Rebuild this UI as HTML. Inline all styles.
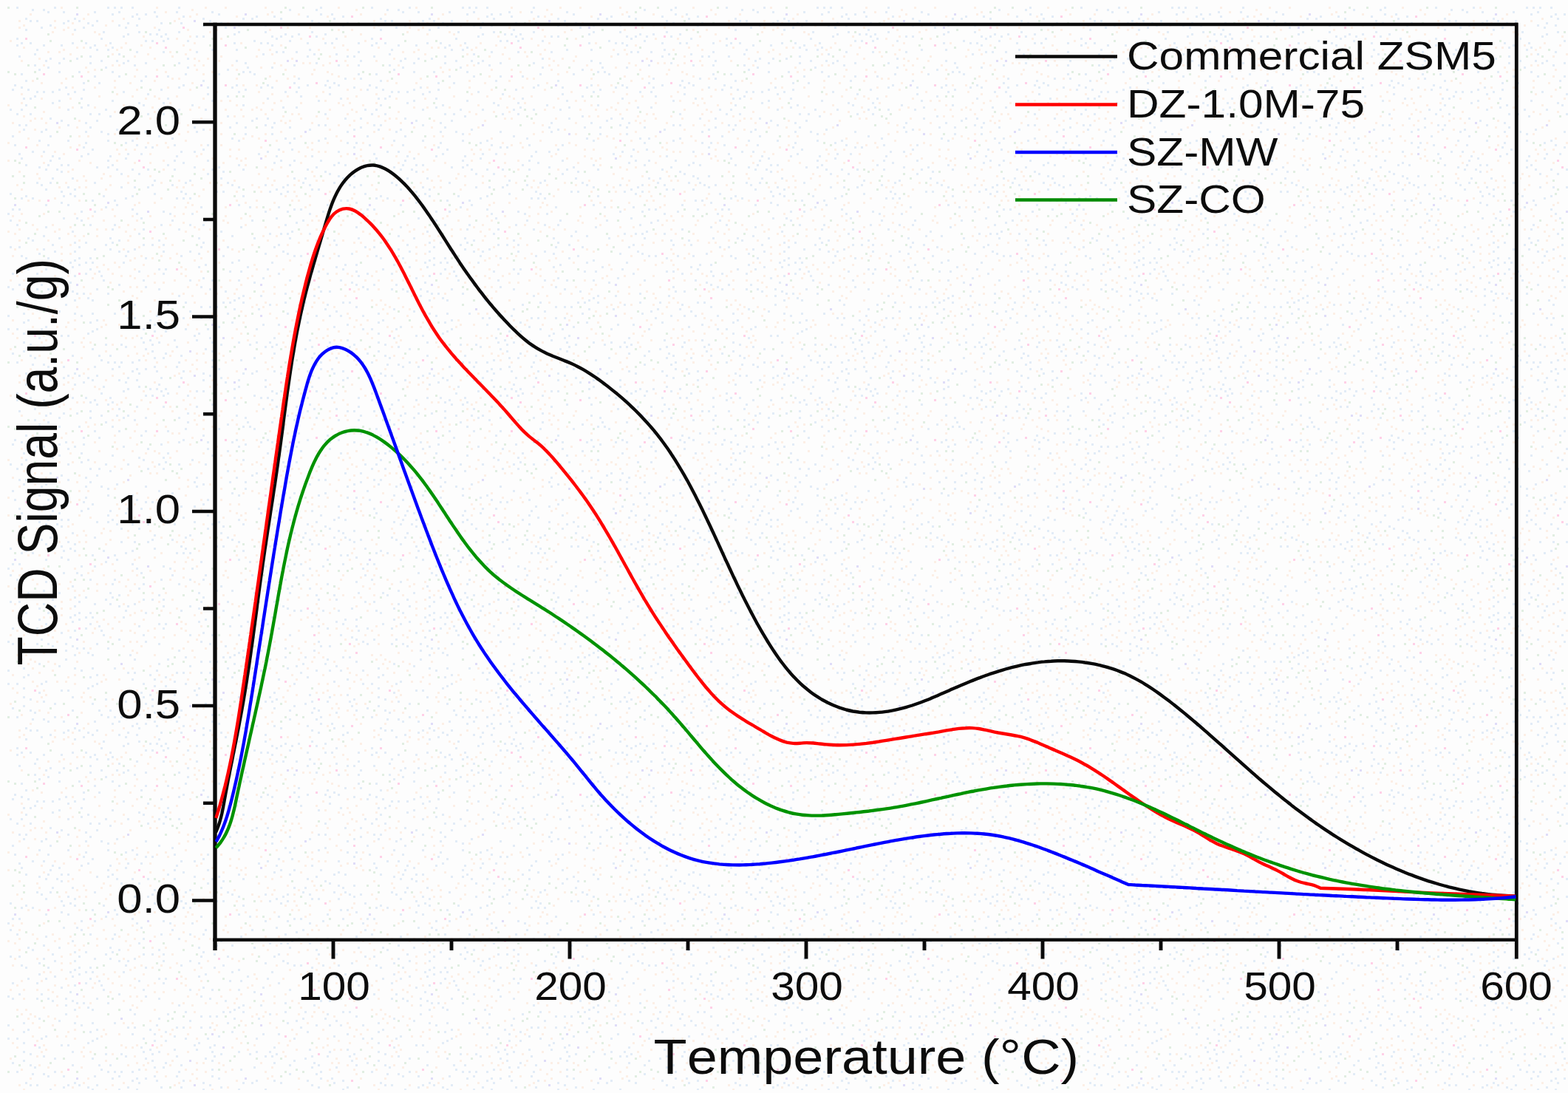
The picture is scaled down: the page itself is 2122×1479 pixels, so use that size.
<!DOCTYPE html>
<html lang="en">
<head>
<meta charset="utf-8">
<title>NH3-TPD profiles</title>
<style>
html,body{margin:0;padding:0;background:#fff;}
body{width:2122px;height:1479px;overflow:hidden;}
svg{display:block;}
text{font-family:"Liberation Sans",Arial,Helvetica,sans-serif;fill:#0c0c0c;font-kerning:none;}
</style>
</head>
<body>
<svg width="2122" height="1479" viewBox="0 0 2122 1479">
<rect width="2122" height="1479" fill="#fdfdfd"/>
<defs><pattern id="dither" width="480" height="480" patternUnits="userSpaceOnUse" x="10" y="9"><path fill="#e2ecf7" d="M345 429h3v3h-3zM357 345h3v3h-3zM231 108h3v3h-3zM69 411h3v3h-3zM30 456h3v3h-3zM303 345h3v3h-3zM405 48h3v3h-3zM45 27h3v3h-3zM459 21h3v3h-3zM354 249h3v3h-3zM336 453h3v3h-3zM177 225h3v3h-3zM381 3h3v3h-3zM63 351h3v3h-3zM195 240h3v3h-3zM51 432h3v3h-3zM12 0h3v3h-3zM39 360h3v3h-3zM288 303h3v3h-3zM102 189h3v3h-3zM75 6h3v3h-3zM372 135h3v3h-3zM429 144h3v3h-3zM342 390h3v3h-3zM87 303h3v3h-3zM321 162h3v3h-3zM453 231h3v3h-3zM15 159h3v3h-3zM141 300h3v3h-3zM111 162h3v3h-3zM339 198h3v3h-3zM6 468h3v3h-3zM57 69h3v3h-3zM186 9h3v3h-3zM450 369h3v3h-3zM441 102h3v3h-3zM117 237h3v3h-3zM189 144h3v3h-3zM120 423h3v3h-3zM60 321h3v3h-3zM36 78h3v3h-3zM183 300h3v3h-3zM195 321h3v3h-3zM366 429h3v3h-3zM471 471h3v3h-3zM54 213h3v3h-3zM12 51h3v3h-3zM204 315h3v3h-3zM135 216h3v3h-3zM282 405h3v3h-3zM105 345h3v3h-3zM447 105h3v3h-3zM453 24h3v3h-3zM24 15h3v3h-3zM261 270h3v3h-3zM438 9h3v3h-3zM69 87h3v3h-3zM444 351h3v3h-3zM414 63h3v3h-3zM459 66h3v3h-3zM369 15h3v3h-3zM381 471h3v3h-3zM381 183h3v3h-3zM330 153h3v3h-3zM102 102h3v3h-3zM30 48h3v3h-3zM210 129h3v3h-3zM84 345h3v3h-3zM360 210h3v3h-3zM291 399h3v3h-3zM378 240h3v3h-3zM24 213h3v3h-3zM213 438h3v3h-3zM18 204h3v3h-3zM57 150h3v3h-3zM6 360h3v3h-3zM135 171h3v3h-3zM315 297h3v3h-3zM3 288h3v3h-3zM156 75h3v3h-3zM411 246h3v3h-3zM201 12h3v3h-3zM420 321h3v3h-3zM21 165h3v3h-3zM48 327h3v3h-3zM24 132h3v3h-3zM105 360h3v3h-3zM114 396h3v3h-3zM396 336h3v3h-3zM429 222h3v3h-3zM87 384h3v3h-3zM288 21h3v3h-3zM411 33h3v3h-3zM69 126h3v3h-3zM258 333h3v3h-3zM243 81h3v3h-3zM174 9h3v3h-3zM270 186h3v3h-3zM78 381h3v3h-3zM408 165h3v3h-3zM414 468h3v3h-3zM462 240h3v3h-3zM147 165h3v3h-3zM147 72h3v3h-3zM72 153h3v3h-3zM81 18h3v3h-3zM27 423h3v3h-3zM111 144h3v3h-3zM141 87h3v3h-3zM120 216h3v3h-3zM72 444h3v3h-3zM72 249h3v3h-3zM300 357h3v3h-3zM159 459h3v3h-3zM285 9h3v3h-3zM138 312h3v3h-3zM348 276h3v3h-3zM282 309h3v3h-3zM126 72h3v3h-3zM309 156h3v3h-3zM141 54h3v3h-3zM6 273h3v3h-3zM228 258h3v3h-3zM408 57h3v3h-3zM381 162h3v3h-3zM441 15h3v3h-3zM87 471h3v3h-3zM81 180h3v3h-3zM261 420h3v3h-3zM414 390h3v3h-3zM318 399h3v3h-3zM378 414h3v3h-3zM468 456h3v3h-3zM216 402h3v3h-3zM405 219h3v3h-3zM369 207h3v3h-3zM9 186h3v3h-3zM171 327h3v3h-3zM366 192h3v3h-3zM357 108h3v3h-3zM186 462h3v3h-3zM156 39h3v3h-3zM273 405h3v3h-3zM117 93h3v3h-3zM279 339h3v3h-3zM105 318h3v3h-3zM348 459h3v3h-3zM405 105h3v3h-3zM183 369h3v3h-3zM420 180h3v3h-3zM366 270h3v3h-3zM159 258h3v3h-3zM261 378h3v3h-3zM90 342h3v3h-3zM477 162h3v3h-3zM63 330h3v3h-3zM228 6h3v3h-3zM57 237h3v3h-3zM60 231h3v3h-3zM378 249h3v3h-3zM168 273h3v3h-3zM249 279h3v3h-3zM90 246h3v3h-3zM336 435h3v3h-3zM456 213h3v3h-3zM306 396h3v3h-3zM297 147h3v3h-3zM297 414h3v3h-3zM435 225h3v3h-3zM15 324h3v3h-3zM255 60h3v3h-3zM18 108h3v3h-3zM186 168h3v3h-3zM375 399h3v3h-3zM258 351h3v3h-3zM33 315h3v3h-3zM276 6h3v3h-3zM321 111h3v3h-3zM297 324h3v3h-3zM210 45h3v3h-3zM87 231h3v3h-3zM141 213h3v3h-3zM237 420h3v3h-3zM306 36h3v3h-3zM42 180h3v3h-3zM114 438h3v3h-3zM135 0h3v3h-3zM156 114h3v3h-3zM270 207h3v3h-3zM471 405h3v3h-3zM72 366h3v3h-3zM450 417h3v3h-3zM387 231h3v3h-3zM12 144h3v3h-3zM159 27h3v3h-3zM417 315h3v3h-3zM240 237h3v3h-3zM309 57h3v3h-3zM357 51h3v3h-3zM276 57h3v3h-3zM225 432h3v3h-3zM87 351h3v3h-3zM222 288h3v3h-3zM84 252h3v3h-3zM237 210h3v3h-3zM432 360h3v3h-3zM78 108h3v3h-3zM477 72h3v3h-3zM99 135h3v3h-3zM138 147h3v3h-3zM354 453h3v3h-3zM69 75h3v3h-3zM174 24h3v3h-3zM333 312h3v3h-3zM105 156h3v3h-3zM111 294h3v3h-3zM369 252h3v3h-3zM315 477h3v3h-3zM468 243h3v3h-3zM405 12h3v3h-3zM198 252h3v3h-3zM144 261h3v3h-3zM234 336h3v3h-3zM228 420h3v3h-3zM393 108h3v3h-3zM150 63h3v3h-3zM318 255h3v3h-3zM183 435h3v3h-3zM417 417h3v3h-3zM429 48h3v3h-3zM129 255h3v3h-3zM219 279h3v3h-3zM276 126h3v3h-3zM348 24h3v3h-3zM453 12h3v3h-3zM120 153h3v3h-3zM315 357h3v3h-3zM99 201h3v3h-3zM255 39h3v3h-3zM27 111h3v3h-3zM333 90h3v3h-3zM402 399h3v3h-3zM288 456h3v3h-3zM246 234h3v3h-3zM186 93h3v3h-3zM384 303h3v3h-3zM78 402h3v3h-3zM126 168h3v3h-3zM225 186h3v3h-3zM249 132h3v3h-3zM303 108h3v3h-3zM273 447h3v3h-3zM177 33h3v3h-3zM234 21h3v3h-3zM348 240h3v3h-3zM234 249h3v3h-3zM360 156h3v3h-3zM153 225h3v3h-3zM360 12h3v3h-3zM210 321h3v3h-3zM60 129h3v3h-3zM204 138h3v3h-3zM225 207h3v3h-3zM87 453h3v3h-3zM231 138h3v3h-3zM33 3h3v3h-3zM459 450h3v3h-3zM420 21h3v3h-3zM381 45h3v3h-3zM138 48h3v3h-3zM426 276h3v3h-3zM246 369h3v3h-3zM399 408h3v3h-3zM132 456h3v3h-3zM465 333h3v3h-3zM180 198h3v3h-3zM153 456h3v3h-3zM435 417h3v3h-3zM39 237h3v3h-3zM195 189h3v3h-3zM120 381h3v3h-3zM456 348h3v3h-3zM45 240h3v3h-3zM102 111h3v3h-3zM360 324h3v3h-3zM57 24h3v3h-3zM183 321h3v3h-3zM174 279h3v3h-3zM237 258h3v3h-3zM468 165h3v3h-3zM30 123h3v3h-3zM435 453h3v3h-3zM300 162h3v3h-3zM210 276h3v3h-3zM210 474h3v3h-3zM138 201h3v3h-3zM117 276h3v3h-3zM105 183h3v3h-3zM90 15h3v3h-3zM246 294h3v3h-3zM345 63h3v3h-3zM291 249h3v3h-3zM30 144h3v3h-3zM456 96h3v3h-3zM24 159h3v3h-3zM396 420h3v3h-3zM396 273h3v3h-3zM171 78h3v3h-3zM30 18h3v3h-3zM51 165h3v3h-3zM93 285h3v3h-3zM375 294h3v3h-3zM252 216h3v3h-3zM381 213h3v3h-3zM261 324h3v3h-3zM447 195h3v3h-3zM48 309h3v3h-3zM207 39h3v3h-3zM447 228h3v3h-3zM285 432h3v3h-3zM228 201h3v3h-3zM21 441h3v3h-3zM36 474h3v3h-3zM51 354h3v3h-3zM294 27h3v3h-3zM102 387h3v3h-3zM378 276h3v3h-3zM114 462h3v3h-3zM168 180h3v3h-3zM420 378h3v3h-3zM318 219h3v3h-3zM393 96h3v3h-3zM48 51h3v3h-3zM369 39h3v3h-3zM264 192h3v3h-3zM255 156h3v3h-3zM432 99h3v3h-3zM222 177h3v3h-3zM141 9h3v3h-3zM360 447h3v3h-3zM36 120h3v3h-3zM90 30h3v3h-3zM147 219h3v3h-3zM474 312h3v3h-3zM108 441h3v3h-3zM417 216h3v3h-3zM111 339h3v3h-3zM132 81h3v3h-3zM372 330h3v3h-3zM90 114h3v3h-3zM435 108h3v3h-3zM174 60h3v3h-3zM198 429h3v3h-3zM39 114h3v3h-3zM48 3h3v3h-3zM3 138h3v3h-3zM312 369h3v3h-3zM303 426h3v3h-3zM420 471h3v3h-3zM210 144h3v3h-3zM57 207h3v3h-3zM273 18h3v3h-3zM186 378h3v3h-3zM369 306h3v3h-3zM51 246h3v3h-3zM162 138h3v3h-3zM162 36h3v3h-3zM99 417h3v3h-3zM81 117h3v3h-3zM267 138h3v3h-3zM330 15h3v3h-3zM384 39h3v3h-3zM309 72h3v3h-3zM246 411h3v3h-3zM81 444h3v3h-3zM246 330h3v3h-3zM381 312h3v3h-3zM135 207h3v3h-3zM51 297h3v3h-3zM6 111h3v3h-3zM471 264h3v3h-3zM387 435h3v3h-3zM348 333h3v3h-3zM294 384h3v3h-3zM411 357h3v3h-3zM252 195h3v3h-3zM477 240h3v3h-3zM78 390h3v3h-3zM267 348h3v3h-3zM150 375h3v3h-3zM54 81h3v3h-3zM426 336h3v3h-3zM54 381h3v3h-3zM48 114h3v3h-3zM279 135h3v3h-3zM75 255h3v3h-3zM168 219h3v3h-3zM90 318h3v3h-3zM138 471h3v3h-3zM471 357h3v3h-3zM408 240h3v3h-3zM330 288h3v3h-3zM150 6h3v3h-3zM111 54h3v3h-3zM312 213h3v3h-3zM72 264h3v3h-3zM216 93h3v3h-3zM150 315h3v3h-3zM459 168h3v3h-3zM342 48h3v3h-3zM279 321h3v3h-3zM447 336h3v3h-3zM417 75h3v3h-3zM348 159h3v3h-3zM21 453h3v3h-3zM264 15h3v3h-3zM45 168h3v3h-3zM354 306h3v3h-3zM165 396h3v3h-3zM108 393h3v3h-3zM63 0h3v3h-3zM126 477h3v3h-3zM90 330h3v3h-3zM81 267h3v3h-3zM429 408h3v3h-3zM180 99h3v3h-3zM186 189h3v3h-3zM357 39h3v3h-3zM351 105h3v3h-3zM432 402h3v3h-3zM6 174h3v3h-3zM162 198h3v3h-3zM429 105h3v3h-3zM435 384h3v3h-3zM420 246h3v3h-3zM75 285h3v3h-3zM276 369h3v3h-3zM312 453h3v3h-3zM453 273h3v3h-3zM90 396h3v3h-3zM264 39h3v3h-3zM192 450h3v3h-3zM66 219h3v3h-3zM216 42h3v3h-3zM375 36h3v3h-3zM417 3h3v3h-3zM366 321h3v3h-3zM273 420h3v3h-3zM162 72h3v3h-3zM210 360h3v3h-3zM312 24h3v3h-3zM378 333h3v3h-3zM420 126h3v3h-3zM447 246h3v3h-3zM267 288h3v3h-3zM453 399h3v3h-3zM375 177h3v3h-3zM33 195h3v3h-3zM48 195h3v3h-3zM162 330h3v3h-3zM474 48h3v3h-3zM474 78h3v3h-3zM114 24h3v3h-3zM270 435h3v3h-3zM375 114h3v3h-3zM231 75h3v3h-3zM189 117h3v3h-3zM123 144h3v3h-3zM282 249h3v3h-3zM225 219h3v3h-3zM207 21h3v3h-3zM216 213h3v3h-3zM390 114h3v3h-3zM297 120h3v3h-3zM468 66h3v3h-3zM408 450h3v3h-3zM198 234h3v3h-3zM264 165h3v3h-3zM387 207h3v3h-3zM432 267h3v3h-3zM231 0h3v3h-3zM270 108h3v3h-3zM108 21h3v3h-3zM21 426h3v3h-3zM114 414h3v3h-3zM117 327h3v3h-3zM396 120h3v3h-3zM462 399h3v3h-3zM444 63h3v3h-3zM303 177h3v3h-3zM312 267h3v3h-3zM255 168h3v3h-3zM201 36h3v3h-3zM318 132h3v3h-3zM345 366h3v3h-3zM168 255h3v3h-3zM231 390h3v3h-3zM60 384h3v3h-3zM186 339h3v3h-3zM39 381h3v3h-3zM171 243h3v3h-3zM285 90h3v3h-3zM207 111h3v3h-3zM267 462h3v3h-3zM18 336h3v3h-3zM417 39h3v3h-3zM216 123h3v3h-3zM18 138h3v3h-3zM198 474h3v3h-3zM351 195h3v3h-3zM177 477h3v3h-3zM123 357h3v3h-3zM264 366h3v3h-3zM204 381h3v3h-3zM381 369h3v3h-3zM411 339h3v3h-3zM36 63h3v3h-3zM213 36h3v3h-3zM180 447h3v3h-3zM387 78h3v3h-3zM327 270h3v3h-3zM222 240h3v3h-3zM90 363h3v3h-3zM360 468h3v3h-3zM306 48h3v3h-3zM297 237h3v3h-3zM477 96h3v3h-3zM42 333h3v3h-3zM0 435h3v3h-3zM474 90h3v3h-3zM39 18h3v3h-3zM444 474h3v3h-3zM81 213h3v3h-3zM189 219h3v3h-3zM270 225h3v3h-3zM312 180h3v3h-3zM363 60h3v3h-3zM384 192h3v3h-3zM405 66h3v3h-3zM423 207h3v3h-3zM204 30h3v3h-3zM42 348h3v3h-3zM204 354h3v3h-3zM96 324h3v3h-3zM312 33h3v3h-3zM12 294h3v3h-3zM81 159h3v3h-3zM90 255h3v3h-3zM441 315h3v3h-3zM69 204h3v3h-3zM156 345h3v3h-3zM57 174h3v3h-3zM462 459h3v3h-3zM450 261h3v3h-3zM432 300h3v3h-3zM333 45h3v3h-3zM279 444h3v3h-3zM120 18h3v3h-3zM111 75h3v3h-3zM351 354h3v3h-3zM405 426h3v3h-3zM39 57h3v3h-3zM444 411h3v3h-3zM303 309h3v3h-3zM468 189h3v3h-3zM18 90h3v3h-3zM15 375h3v3h-3zM42 447h3v3h-3zM252 162h3v3h-3zM246 258h3v3h-3zM387 273h3v3h-3zM171 420h3v3h-3zM114 261h3v3h-3zM132 138h3v3h-3zM318 15h3v3h-3zM168 429h3v3h-3zM15 273h3v3h-3zM231 300h3v3h-3zM24 30h3v3h-3zM297 84h3v3h-3zM258 441h3v3h-3zM54 186h3v3h-3zM126 42h3v3h-3zM264 24h3v3h-3zM21 123h3v3h-3zM363 246h3v3h-3zM141 318h3v3h-3zM183 453h3v3h-3zM291 222h3v3h-3zM192 36h3v3h-3zM276 465h3v3h-3zM6 381h3v3h-3zM24 99h3v3h-3zM144 294h3v3h-3zM357 171h3v3h-3zM333 474h3v3h-3zM123 471h3v3h-3zM111 66h3v3h-3zM312 114h3v3h-3zM30 471h3v3h-3zM99 123h3v3h-3zM186 75h3v3h-3zM276 453h3v3h-3zM441 213h3v3h-3zM108 198h3v3h-3zM387 465h3v3h-3zM144 414h3v3h-3zM18 48h3v3h-3zM411 474h3v3h-3zM75 21h3v3h-3zM450 123h3v3h-3zM357 162h3v3h-3zM363 201h3v3h-3zM99 276h3v3h-3zM72 222h3v3h-3zM306 408h3v3h-3zM60 114h3v3h-3zM129 369h3v3h-3zM123 102h3v3h-3zM87 48h3v3h-3zM435 117h3v3h-3zM177 129h3v3h-3zM279 150h3v3h-3zM465 465h3v3h-3zM180 285h3v3h-3zM72 51h3v3h-3zM63 462h3v3h-3zM423 9h3v3h-3zM357 459h3v3h-3zM372 243h3v3h-3zM276 477h3v3h-3zM240 90h3v3h-3zM69 111h3v3h-3zM213 468h3v3h-3zM0 378h3v3h-3zM51 267h3v3h-3zM204 453h3v3h-3zM195 45h3v3h-3zM357 81h3v3h-3zM456 150h3v3h-3zM237 105h3v3h-3zM231 33h3v3h-3zM228 459h3v3h-3zM261 405h3v3h-3zM318 390h3v3h-3zM459 261h3v3h-3zM348 33h3v3h-3zM321 75h3v3h-3zM264 294h3v3h-3zM411 459h3v3h-3zM429 36h3v3h-3zM99 288h3v3h-3zM3 252h3v3h-3zM210 60h3v3h-3zM24 339h3v3h-3zM423 384h3v3h-3zM456 237h3v3h-3zM174 186h3v3h-3zM237 12h3v3h-3zM60 201h3v3h-3zM402 462h3v3h-3zM27 312h3v3h-3zM153 243h3v3h-3zM114 345h3v3h-3zM105 168h3v3h-3zM234 471h3v3h-3zM132 270h3v3h-3zM465 372h3v3h-3zM150 24h3v3h-3zM45 435h3v3h-3zM303 240h3v3h-3zM93 69h3v3h-3zM33 258h3v3h-3zM477 150h3v3h-3zM402 231h3v3h-3zM204 408h3v3h-3zM264 99h3v3h-3zM120 435h3v3h-3zM15 198h3v3h-3zM429 159h3v3h-3zM171 402h3v3h-3zM252 444h3v3h-3zM144 0h3v3h-3zM75 69h3v3h-3zM168 12h3v3h-3zM444 321h3v3h-3zM393 36h3v3h-3zM96 339h3v3h-3zM0 417h3v3h-3zM342 108h3v3h-3zM150 93h3v3h-3zM264 318h3v3h-3zM318 87h3v3h-3zM9 105h3v3h-3zM195 456h3v3h-3zM210 330h3v3h-3zM111 426h3v3h-3zM387 336h3v3h-3zM351 48h3v3h-3zM390 60h3v3h-3zM324 81h3v3h-3zM54 339h3v3h-3zM312 393h3v3h-3zM162 420h3v3h-3zM366 360h3v3h-3zM468 108h3v3h-3zM354 402h3v3h-3zM420 159h3v3h-3zM333 372h3v3h-3zM351 123h3v3h-3zM423 0h3v3h-3zM432 459h3v3h-3zM159 336h3v3h-3zM474 363h3v3h-3zM135 180h3v3h-3zM195 465h3v3h-3zM291 336h3v3h-3zM429 177h3v3h-3zM459 183h3v3h-3zM363 285h3v3h-3zM471 183h3v3h-3zM24 255h3v3h-3zM390 135h3v3h-3zM111 354h3v3h-3zM198 6h3v3h-3zM378 306h3v3h-3zM312 243h3v3h-3zM189 243h3v3h-3zM327 456h3v3h-3zM270 117h3v3h-3zM96 18h3v3h-3zM129 33h3v3h-3zM420 357h3v3h-3zM177 15h3v3h-3zM387 177h3v3h-3zM12 435h3v3h-3zM447 78h3v3h-3zM51 219h3v3h-3zM183 132h3v3h-3zM312 342h3v3h-3zM159 204h3v3h-3zM117 51h3v3h-3zM135 387h3v3h-3zM48 459h3v3h-3zM114 192h3v3h-3zM309 105h3v3h-3zM150 330h3v3h-3zM207 294h3v3h-3zM186 45h3v3h-3zM288 231h3v3h-3zM372 60h3v3h-3zM399 237h3v3h-3zM285 216h3v3h-3zM339 408h3v3h-3zM240 399h3v3h-3zM0 279h3v3h-3zM126 363h3v3h-3zM471 348h3v3h-3zM471 375h3v3h-3zM471 297h3v3h-3zM81 138h3v3h-3zM141 126h3v3h-3zM90 414h3v3h-3zM120 57h3v3h-3zM441 432h3v3h-3zM255 450h3v3h-3zM276 219h3v3h-3zM105 48h3v3h-3zM213 354h3v3h-3zM21 465h3v3h-3zM447 210h3v3h-3zM468 228h3v3h-3zM363 42h3v3h-3zM474 60h3v3h-3zM93 387h3v3h-3zM336 150h3v3h-3zM390 411h3v3h-3zM108 132h3v3h-3zM168 0h3v3h-3zM21 414h3v3h-3zM459 429h3v3h-3zM177 306h3v3h-3zM42 216h3v3h-3zM3 324h3v3h-3zM177 357h3v3h-3zM132 321h3v3h-3zM327 87h3v3h-3zM363 456h3v3h-3zM408 279h3v3h-3zM441 237h3v3h-3zM198 438h3v3h-3zM375 387h3v3h-3zM54 6h3v3h-3zM96 87h3v3h-3zM204 174h3v3h-3zM42 84h3v3h-3zM159 183h3v3h-3zM162 21h3v3h-3zM147 267h3v3h-3zM117 6h3v3h-3zM102 27h3v3h-3zM240 435h3v3h-3zM390 291h3v3h-3zM135 57h3v3h-3zM12 42h3v3h-3zM18 258h3v3h-3zM138 327h3v3h-3zM243 45h3v3h-3zM84 372h3v3h-3zM213 135h3v3h-3zM258 312h3v3h-3zM201 417h3v3h-3zM273 381h3v3h-3zM15 66h3v3h-3zM243 69h3v3h-3zM69 312h3v3h-3zM45 375h3v3h-3zM444 42h3v3h-3zM240 252h3v3h-3zM72 213h3v3h-3zM225 450h3v3h-3zM279 459h3v3h-3zM399 288h3v3h-3zM213 426h3v3h-3zM153 0h3v3h-3zM300 399h3v3h-3zM321 171h3v3h-3zM81 243h3v3h-3zM27 354h3v3h-3zM51 72h3v3h-3zM324 351h3v3h-3zM96 348h3v3h-3zM387 102h3v3h-3zM351 150h3v3h-3zM453 354h3v3h-3zM336 12h3v3h-3zM411 18h3v3h-3zM408 306h3v3h-3zM234 195h3v3h-3zM411 201h3v3h-3zM192 423h3v3h-3zM438 48h3v3h-3zM42 408h3v3h-3z"/><path fill="#fcefe6" d="M390 450h3v3h-3zM144 141h3v3h-3zM393 363h3v3h-3zM471 141h3v3h-3zM72 342h3v3h-3zM471 120h3v3h-3zM477 9h3v3h-3zM213 312h3v3h-3zM174 393h3v3h-3zM81 306h3v3h-3zM81 222h3v3h-3zM432 150h3v3h-3zM207 258h3v3h-3zM255 9h3v3h-3zM45 357h3v3h-3zM144 99h3v3h-3zM321 294h3v3h-3zM0 207h3v3h-3zM462 441h3v3h-3zM75 30h3v3h-3zM159 447h3v3h-3zM294 138h3v3h-3zM174 468h3v3h-3zM150 297h3v3h-3zM81 27h3v3h-3zM393 195h3v3h-3zM456 375h3v3h-3zM132 51h3v3h-3zM96 174h3v3h-3zM342 189h3v3h-3zM252 399h3v3h-3zM12 363h3v3h-3zM273 237h3v3h-3zM459 57h3v3h-3zM369 51h3v3h-3zM237 243h3v3h-3zM102 54h3v3h-3zM57 345h3v3h-3zM417 282h3v3h-3zM33 99h3v3h-3zM63 363h3v3h-3zM21 381h3v3h-3zM477 291h3v3h-3zM54 60h3v3h-3zM252 297h3v3h-3zM336 354h3v3h-3zM396 393h3v3h-3zM174 84h3v3h-3zM372 195h3v3h-3zM6 282h3v3h-3zM468 153h3v3h-3zM396 129h3v3h-3zM261 339h3v3h-3zM192 150h3v3h-3zM162 294h3v3h-3zM168 447h3v3h-3zM243 159h3v3h-3zM162 315h3v3h-3zM246 57h3v3h-3zM465 30h3v3h-3zM432 12h3v3h-3zM102 309h3v3h-3zM348 144h3v3h-3zM342 81h3v3h-3zM153 363h3v3h-3zM195 135h3v3h-3zM408 27h3v3h-3zM414 399h3v3h-3zM120 300h3v3h-3zM171 66h3v3h-3zM420 435h3v3h-3zM384 261h3v3h-3zM93 162h3v3h-3zM267 387h3v3h-3zM63 27h3v3h-3zM336 261h3v3h-3zM210 372h3v3h-3zM408 255h3v3h-3zM378 444h3v3h-3zM336 402h3v3h-3zM429 126h3v3h-3zM429 195h3v3h-3zM237 291h3v3h-3zM381 153h3v3h-3zM315 411h3v3h-3zM3 462h3v3h-3zM396 306h3v3h-3zM351 315h3v3h-3zM309 204h3v3h-3zM189 363h3v3h-3zM378 96h3v3h-3zM363 402h3v3h-3zM198 99h3v3h-3zM15 27h3v3h-3zM147 117h3v3h-3zM474 381h3v3h-3zM447 93h3v3h-3zM15 288h3v3h-3zM411 156h3v3h-3zM177 264h3v3h-3zM138 240h3v3h-3zM198 297h3v3h-3zM72 333h3v3h-3zM321 417h3v3h-3zM96 153h3v3h-3zM309 12h3v3h-3zM276 87h3v3h-3zM384 144h3v3h-3zM54 369h3v3h-3zM435 369h3v3h-3zM156 132h3v3h-3zM45 102h3v3h-3zM354 57h3v3h-3zM327 393h3v3h-3zM270 330h3v3h-3zM30 153h3v3h-3zM393 9h3v3h-3zM309 435h3v3h-3zM459 144h3v3h-3zM261 198h3v3h-3zM213 87h3v3h-3zM120 309h3v3h-3zM330 138h3v3h-3zM360 75h3v3h-3zM477 36h3v3h-3zM165 309h3v3h-3zM435 138h3v3h-3zM297 393h3v3h-3zM195 339h3v3h-3zM306 387h3v3h-3zM36 150h3v3h-3zM75 198h3v3h-3zM192 210h3v3h-3zM435 75h3v3h-3zM339 57h3v3h-3zM33 294h3v3h-3zM360 129h3v3h-3zM378 321h3v3h-3zM237 279h3v3h-3zM225 18h3v3h-3zM447 30h3v3h-3zM240 303h3v3h-3zM399 75h3v3h-3zM87 36h3v3h-3zM477 318h3v3h-3zM201 447h3v3h-3zM222 96h3v3h-3zM237 387h3v3h-3zM477 273h3v3h-3zM210 207h3v3h-3zM468 432h3v3h-3zM213 183h3v3h-3zM18 477h3v3h-3zM168 414h3v3h-3zM114 282h3v3h-3zM327 282h3v3h-3zM60 417h3v3h-3zM432 435h3v3h-3zM372 354h3v3h-3zM216 108h3v3h-3zM234 351h3v3h-3zM243 168h3v3h-3zM189 63h3v3h-3zM18 279h3v3h-3zM303 447h3v3h-3zM432 282h3v3h-3zM348 216h3v3h-3zM15 168h3v3h-3zM396 42h3v3h-3zM417 120h3v3h-3zM48 444h3v3h-3zM417 234h3v3h-3zM240 63h3v3h-3zM72 324h3v3h-3zM258 255h3v3h-3zM102 378h3v3h-3zM54 474h3v3h-3zM267 0h3v3h-3zM288 66h3v3h-3zM354 414h3v3h-3zM18 402h3v3h-3zM84 321h3v3h-3zM186 123h3v3h-3zM288 126h3v3h-3zM360 234h3v3h-3zM117 135h3v3h-3zM12 447h3v3h-3zM273 165h3v3h-3zM450 180h3v3h-3zM459 360h3v3h-3zM456 390h3v3h-3zM171 339h3v3h-3zM309 132h3v3h-3zM420 366h3v3h-3zM198 372h3v3h-3zM309 261h3v3h-3zM369 168h3v3h-3zM165 102h3v3h-3zM396 210h3v3h-3zM285 345h3v3h-3zM246 111h3v3h-3zM198 396h3v3h-3zM99 474h3v3h-3zM357 63h3v3h-3zM318 147h3v3h-3zM402 378h3v3h-3zM426 234h3v3h-3zM105 81h3v3h-3zM363 180h3v3h-3zM6 156h3v3h-3zM414 228h3v3h-3zM258 300h3v3h-3zM252 342h3v3h-3zM9 306h3v3h-3zM81 426h3v3h-3zM288 156h3v3h-3zM390 255h3v3h-3zM192 411h3v3h-3zM468 384h3v3h-3zM396 150h3v3h-3zM366 441h3v3h-3zM252 69h3v3h-3zM276 204h3v3h-3zM354 93h3v3h-3zM459 111h3v3h-3zM141 456h3v3h-3zM420 57h3v3h-3zM105 234h3v3h-3zM291 471h3v3h-3zM405 294h3v3h-3zM90 435h3v3h-3zM309 381h3v3h-3zM459 78h3v3h-3zM360 264h3v3h-3zM432 87h3v3h-3zM330 321h3v3h-3zM18 246h3v3h-3zM39 225h3v3h-3zM471 330h3v3h-3zM453 51h3v3h-3zM180 51h3v3h-3zM282 417h3v3h-3zM93 54h3v3h-3zM348 0h3v3h-3zM345 405h3v3h-3zM45 150h3v3h-3zM240 270h3v3h-3zM132 429h3v3h-3zM180 384h3v3h-3zM396 174h3v3h-3zM171 210h3v3h-3zM54 405h3v3h-3zM435 66h3v3h-3zM294 0h3v3h-3zM24 396h3v3h-3zM222 387h3v3h-3zM180 336h3v3h-3zM420 195h3v3h-3zM198 27h3v3h-3zM39 438h3v3h-3zM342 138h3v3h-3zM21 54h3v3h-3zM87 135h3v3h-3zM477 111h3v3h-3zM240 477h3v3h-3zM402 201h3v3h-3zM66 390h3v3h-3zM129 288h3v3h-3zM375 459h3v3h-3zM348 399h3v3h-3zM69 300h3v3h-3zM90 423h3v3h-3zM42 261h3v3h-3zM135 354h3v3h-3zM291 288h3v3h-3zM36 165h3v3h-3zM321 264h3v3h-3zM234 360h3v3h-3zM138 372h3v3h-3zM156 414h3v3h-3zM12 396h3v3h-3zM435 165h3v3h-3zM42 231h3v3h-3zM324 366h3v3h-3zM345 309h3v3h-3zM264 468h3v3h-3zM168 120h3v3h-3zM114 366h3v3h-3zM15 300h3v3h-3zM90 279h3v3h-3zM288 378h3v3h-3zM192 54h3v3h-3zM264 246h3v3h-3zM141 360h3v3h-3zM468 318h3v3h-3zM48 210h3v3h-3zM207 237h3v3h-3zM147 207h3v3h-3zM417 300h3v3h-3zM0 183h3v3h-3zM477 429h3v3h-3zM255 201h3v3h-3zM264 78h3v3h-3zM12 240h3v3h-3zM159 303h3v3h-3zM123 120h3v3h-3zM255 477h3v3h-3zM225 282h3v3h-3zM78 237h3v3h-3zM300 192h3v3h-3zM192 282h3v3h-3zM435 321h3v3h-3zM204 123h3v3h-3zM90 309h3v3h-3zM171 300h3v3h-3zM246 12h3v3h-3zM207 432h3v3h-3zM369 153h3v3h-3zM279 423h3v3h-3zM258 369h3v3h-3zM477 192h3v3h-3zM18 129h3v3h-3zM411 90h3v3h-3zM48 393h3v3h-3zM357 6h3v3h-3zM159 48h3v3h-3zM306 234h3v3h-3zM408 75h3v3h-3zM312 192h3v3h-3zM6 441h3v3h-3zM108 174h3v3h-3zM282 387h3v3h-3zM456 72h3v3h-3zM231 156h3v3h-3zM108 285h3v3h-3zM156 15h3v3h-3zM132 246h3v3h-3zM51 450h3v3h-3zM246 138h3v3h-3zM288 42h3v3h-3zM162 471h3v3h-3zM174 288h3v3h-3zM459 414h3v3h-3zM393 24h3v3h-3zM405 345h3v3h-3zM456 39h3v3h-3zM423 306h3v3h-3zM375 84h3v3h-3zM177 141h3v3h-3zM108 87h3v3h-3zM192 198h3v3h-3zM48 141h3v3h-3zM27 261h3v3h-3zM9 327h3v3h-3zM42 420h3v3h-3zM297 21h3v3h-3zM150 429h3v3h-3zM462 159h3v3h-3zM198 264h3v3h-3zM468 477h3v3h-3zM51 156h3v3h-3zM204 324h3v3h-3zM285 468h3v3h-3zM387 93h3v3h-3zM393 318h3v3h-3zM219 60h3v3h-3zM348 171h3v3h-3zM366 297h3v3h-3zM315 285h3v3h-3zM99 453h3v3h-3zM321 213h3v3h-3zM117 360h3v3h-3zM387 240h3v3h-3zM330 174h3v3h-3zM414 84h3v3h-3zM447 159h3v3h-3zM357 117h3v3h-3zM393 234h3v3h-3zM225 270h3v3h-3zM453 315h3v3h-3zM345 129h3v3h-3zM426 78h3v3h-3zM117 108h3v3h-3zM117 84h3v3h-3zM309 84h3v3h-3zM378 228h3v3h-3zM375 156h3v3h-3zM459 198h3v3h-3zM168 282h3v3h-3zM45 123h3v3h-3zM69 162h3v3h-3zM63 303h3v3h-3zM171 192h3v3h-3zM303 477h3v3h-3zM336 105h3v3h-3zM339 243h3v3h-3zM369 78h3v3h-3zM264 123h3v3h-3zM441 450h3v3h-3zM354 273h3v3h-3zM315 441h3v3h-3zM288 186h3v3h-3zM348 297h3v3h-3zM375 255h3v3h-3zM165 153h3v3h-3zM264 90h3v3h-3zM447 129h3v3h-3zM222 465h3v3h-3zM201 84h3v3h-3zM411 192h3v3h-3zM39 327h3v3h-3zM276 414h3v3h-3zM441 54h3v3h-3zM78 432h3v3h-3zM402 270h3v3h-3zM150 78h3v3h-3zM318 105h3v3h-3zM372 147h3v3h-3zM60 372h3v3h-3zM102 228h3v3h-3zM438 468h3v3h-3zM318 426h3v3h-3zM219 429h3v3h-3zM243 30h3v3h-3zM93 234h3v3h-3zM435 339h3v3h-3zM69 60h3v3h-3zM225 369h3v3h-3zM447 306h3v3h-3zM15 18h3v3h-3zM126 231h3v3h-3zM126 273h3v3h-3zM255 375h3v3h-3zM390 429h3v3h-3zM219 129h3v3h-3zM240 180h3v3h-3zM426 447h3v3h-3zM72 0h3v3h-3zM69 243h3v3h-3zM426 42h3v3h-3zM384 384h3v3h-3zM261 150h3v3h-3zM165 342h3v3h-3zM393 261h3v3h-3zM294 270h3v3h-3zM174 177h3v3h-3zM330 240h3v3h-3zM141 18h3v3h-3zM153 444h3v3h-3zM279 183h3v3h-3zM330 363h3v3h-3zM42 471h3v3h-3zM81 363h3v3h-3zM147 192h3v3h-3zM381 438h3v3h-3zM183 471h3v3h-3zM66 432h3v3h-3zM96 186h3v3h-3zM363 309h3v3h-3zM357 474h3v3h-3zM450 240h3v3h-3zM231 15h3v3h-3zM168 390h3v3h-3zM306 147h3v3h-3zM15 315h3v3h-3zM363 420h3v3h-3zM162 228h3v3h-3zM171 459h3v3h-3zM198 69h3v3h-3zM102 447h3v3h-3zM249 390h3v3h-3zM435 261h3v3h-3zM222 321h3v3h-3zM15 222h3v3h-3zM291 210h3v3h-3zM63 18h3v3h-3zM165 363h3v3h-3zM462 267h3v3h-3zM171 366h3v3h-3zM174 378h3v3h-3zM417 447h3v3h-3zM18 72h3v3h-3zM48 78h3v3h-3zM246 39h3v3h-3zM357 219h3v3h-3zM453 132h3v3h-3zM84 123h3v3h-3zM393 144h3v3h-3zM144 282h3v3h-3zM426 354h3v3h-3zM384 423h3v3h-3zM174 444h3v3h-3zM147 57h3v3h-3zM84 189h3v3h-3zM417 327h3v3h-3zM144 171h3v3h-3zM198 141h3v3h-3zM471 3h3v3h-3zM33 432h3v3h-3zM378 27h3v3h-3zM243 378h3v3h-3zM3 45h3v3h-3zM315 375h3v3h-3zM450 294h3v3h-3zM93 405h3v3h-3zM87 21h3v3h-3zM111 453h3v3h-3zM465 138h3v3h-3zM156 384h3v3h-3zM432 183h3v3h-3zM111 210h3v3h-3zM144 345h3v3h-3zM84 333h3v3h-3zM153 54h3v3h-3zM411 288h3v3h-3zM21 147h3v3h-3zM324 450h3v3h-3zM333 444h3v3h-3zM201 150h3v3h-3zM465 258h3v3h-3zM360 387h3v3h-3zM354 363h3v3h-3zM321 204h3v3h-3zM243 429h3v3h-3zM240 354h3v3h-3zM459 123h3v3h-3zM315 138h3v3h-3zM417 147h3v3h-3zM420 348h3v3h-3zM408 267h3v3h-3zM183 39h3v3h-3zM219 339h3v3h-3zM6 336h3v3h-3zM300 369h3v3h-3zM339 114h3v3h-3zM174 111h3v3h-3zM339 225h3v3h-3zM360 378h3v3h-3zM231 234h3v3h-3zM120 351h3v3h-3zM216 189h3v3h-3zM129 423h3v3h-3zM201 186h3v3h-3zM171 354h3v3h-3zM219 294h3v3h-3zM453 288h3v3h-3zM87 108h3v3h-3zM435 249h3v3h-3zM183 348h3v3h-3zM336 270h3v3h-3zM96 261h3v3h-3zM69 135h3v3h-3zM384 69h3v3h-3zM228 243h3v3h-3zM363 99h3v3h-3zM405 315h3v3h-3zM252 78h3v3h-3zM420 288h3v3h-3zM156 327h3v3h-3zM354 30h3v3h-3zM336 135h3v3h-3zM270 69h3v3h-3zM333 348h3v3h-3zM18 357h3v3h-3zM387 249h3v3h-3zM117 33h3v3h-3zM171 267h3v3h-3zM45 453h3v3h-3zM258 135h3v3h-3zM141 78h3v3h-3zM339 177h3v3h-3zM141 63h3v3h-3zM153 144h3v3h-3zM288 240h3v3h-3zM171 93h3v3h-3zM351 231h3v3h-3zM54 315h3v3h-3zM315 207h3v3h-3zM411 222h3v3h-3zM228 120h3v3h-3zM21 369h3v3h-3zM126 432h3v3h-3zM96 207h3v3h-3zM150 351h3v3h-3zM444 360h3v3h-3zM249 102h3v3h-3zM255 435h3v3h-3zM0 303h3v3h-3zM102 15h3v3h-3zM63 258h3v3h-3zM351 9h3v3h-3zM459 471h3v3h-3zM462 129h3v3h-3zM372 453h3v3h-3zM6 423h3v3h-3zM249 267h3v3h-3zM441 405h3v3h-3zM231 171h3v3h-3zM216 456h3v3h-3zM447 0h3v3h-3zM381 342h3v3h-3zM30 402h3v3h-3zM96 315h3v3h-3zM393 402h3v3h-3zM210 219h3v3h-3zM123 36h3v3h-3zM78 354h3v3h-3zM129 225h3v3h-3zM273 33h3v3h-3zM228 42h3v3h-3zM300 201h3v3h-3zM411 183h3v3h-3zM369 216h3v3h-3zM36 405h3v3h-3zM48 345h3v3h-3zM465 363h3v3h-3zM243 264h3v3h-3zM363 336h3v3h-3zM471 423h3v3h-3zM48 279h3v3h-3zM435 477h3v3h-3zM447 438h3v3h-3zM72 102h3v3h-3zM198 120h3v3h-3zM156 162h3v3h-3zM150 198h3v3h-3zM447 468h3v3h-3zM189 183h3v3h-3zM144 108h3v3h-3zM0 132h3v3h-3zM186 477h3v3h-3zM300 126h3v3h-3zM426 423h3v3h-3zM396 348h3v3h-3zM471 204h3v3h-3zM141 273h3v3h-3zM111 387h3v3h-3zM336 66h3v3h-3zM243 453h3v3h-3zM462 420h3v3h-3zM369 126h3v3h-3zM18 117h3v3h-3zM222 66h3v3h-3zM420 393h3v3h-3zM264 219h3v3h-3zM378 120h3v3h-3zM177 324h3v3h-3zM255 276h3v3h-3zM477 201h3v3h-3zM420 333h3v3h-3zM39 300h3v3h-3zM240 363h3v3h-3zM42 69h3v3h-3zM303 78h3v3h-3zM450 201h3v3h-3zM84 63h3v3h-3zM33 414h3v3h-3zM342 249h3v3h-3zM330 405h3v3h-3zM78 96h3v3h-3zM309 249h3v3h-3zM273 300h3v3h-3zM3 369h3v3h-3zM192 228h3v3h-3zM438 90h3v3h-3zM432 444h3v3h-3zM405 189h3v3h-3zM189 468h3v3h-3zM105 243h3v3h-3zM357 240h3v3h-3zM318 177h3v3h-3zM426 399h3v3h-3zM213 6h3v3h-3zM444 462h3v3h-3zM450 450h3v3h-3zM222 423h3v3h-3zM102 459h3v3h-3zM294 282h3v3h-3zM228 333h3v3h-3zM393 387h3v3h-3zM21 24h3v3h-3zM405 414h3v3h-3zM348 201h3v3h-3zM129 348h3v3h-3zM84 297h3v3h-3zM441 333h3v3h-3zM375 375h3v3h-3zM468 252h3v3h-3zM297 291h3v3h-3zM426 114h3v3h-3zM60 33h3v3h-3zM138 228h3v3h-3zM132 24h3v3h-3zM60 294h3v3h-3zM288 171h3v3h-3zM207 336h3v3h-3zM471 462h3v3h-3zM231 96h3v3h-3zM39 186h3v3h-3zM258 72h3v3h-3zM219 471h3v3h-3zM108 9h3v3h-3zM39 369h3v3h-3zM162 237h3v3h-3zM204 423h3v3h-3zM63 195h3v3h-3zM345 384h3v3h-3zM237 51h3v3h-3zM342 468h3v3h-3zM198 360h3v3h-3zM27 177h3v3h-3zM282 114h3v3h-3zM63 408h3v3h-3zM39 459h3v3h-3zM96 393h3v3h-3zM309 96h3v3h-3zM417 342h3v3h-3zM282 30h3v3h-3zM195 312h3v3h-3zM159 192h3v3h-3zM249 3h3v3h-3zM468 96h3v3h-3zM132 465h3v3h-3zM255 84h3v3h-3zM96 243h3v3h-3zM444 174h3v3h-3zM30 9h3v3h-3zM414 381h3v3h-3zM45 201h3v3h-3zM285 72h3v3h-3zM255 468h3v3h-3zM261 186h3v3h-3zM75 57h3v3h-3zM252 48h3v3h-3zM357 138h3v3h-3zM276 24h3v3h-3zM66 378h3v3h-3zM87 219h3v3h-3zM411 405h3v3h-3zM165 378h3v3h-3zM315 48h3v3h-3zM312 330h3v3h-3zM291 315h3v3h-3zM201 0h3v3h-3zM246 420h3v3h-3zM249 240h3v3h-3zM27 408h3v3h-3zM132 300h3v3h-3zM303 327h3v3h-3zM261 357h3v3h-3zM207 444h3v3h-3z"/><path fill="#e1eee2" d="M144 183h3v3h-3zM150 396h3v3h-3zM423 63h3v3h-3zM219 21h3v3h-3zM321 54h3v3h-3zM66 237h3v3h-3zM312 90h3v3h-3zM252 225h3v3h-3zM459 282h3v3h-3zM285 477h3v3h-3zM348 96h3v3h-3zM369 462h3v3h-3zM225 399h3v3h-3zM69 276h3v3h-3zM21 237h3v3h-3zM249 309h3v3h-3zM381 267h3v3h-3zM477 345h3v3h-3zM180 108h3v3h-3zM36 87h3v3h-3zM66 168h3v3h-3zM48 411h3v3h-3zM147 321h3v3h-3zM474 21h3v3h-3zM216 246h3v3h-3zM390 477h3v3h-3zM99 66h3v3h-3zM435 273h3v3h-3zM147 462h3v3h-3zM102 252h3v3h-3zM261 231h3v3h-3zM306 459h3v3h-3zM297 39h3v3h-3zM186 33h3v3h-3zM321 279h3v3h-3zM27 78h3v3h-3zM285 369h3v3h-3zM339 324h3v3h-3zM117 456h3v3h-3zM420 141h3v3h-3zM276 279h3v3h-3zM135 66h3v3h-3zM210 78h3v3h-3zM372 411h3v3h-3zM420 69h3v3h-3zM294 405h3v3h-3zM318 120h3v3h-3zM153 288h3v3h-3zM225 78h3v3h-3zM435 18h3v3h-3zM345 102h3v3h-3zM93 0h3v3h-3zM432 312h3v3h-3zM402 252h3v3h-3zM183 417h3v3h-3zM321 432h3v3h-3zM411 441h3v3h-3zM48 336h3v3h-3zM180 147h3v3h-3zM171 234h3v3h-3zM90 150h3v3h-3zM216 411h3v3h-3zM141 114h3v3h-3zM126 84h3v3h-3zM333 384h3v3h-3zM324 30h3v3h-3zM450 381h3v3h-3zM183 312h3v3h-3zM54 36h3v3h-3zM393 300h3v3h-3zM276 42h3v3h-3zM300 465h3v3h-3zM237 315h3v3h-3zM345 288h3v3h-3zM102 294h3v3h-3zM6 228h3v3h-3zM165 57h3v3h-3zM399 0h3v3h-3zM336 216h3v3h-3zM210 306h3v3h-3zM24 318h3v3h-3zM267 429h3v3h-3zM36 135h3v3h-3zM345 270h3v3h-3zM87 93h3v3h-3zM438 30h3v3h-3zM453 33h3v3h-3zM39 96h3v3h-3zM375 54h3v3h-3zM9 258h3v3h-3zM96 129h3v3h-3zM204 222h3v3h-3zM54 276h3v3h-3zM381 282h3v3h-3zM84 72h3v3h-3zM228 60h3v3h-3zM237 405h3v3h-3zM306 171h3v3h-3zM141 381h3v3h-3zM63 423h3v3h-3zM105 261h3v3h-3zM15 471h3v3h-3zM318 246h3v3h-3zM372 90h3v3h-3zM279 81h3v3h-3zM282 237h3v3h-3zM447 282h3v3h-3zM273 51h3v3h-3zM24 291h3v3h-3zM123 252h3v3h-3zM318 327h3v3h-3zM309 120h3v3h-3zM381 393h3v3h-3zM198 219h3v3h-3zM252 252h3v3h-3zM222 408h3v3h-3zM333 249h3v3h-3zM228 150h3v3h-3zM312 417h3v3h-3zM15 210h3v3h-3zM336 330h3v3h-3zM222 228h3v3h-3zM354 186h3v3h-3zM90 294h3v3h-3zM183 291h3v3h-3zM84 174h3v3h-3zM219 138h3v3h-3zM300 222h3v3h-3zM99 45h3v3h-3zM213 159h3v3h-3zM204 342h3v3h-3zM291 426h3v3h-3zM0 87h3v3h-3zM0 0h3v3h-3zM42 282h3v3h-3zM465 279h3v3h-3zM75 462h3v3h-3zM108 99h3v3h-3zM255 108h3v3h-3zM396 243h3v3h-3zM270 357h3v3h-3zM9 90h3v3h-3zM255 321h3v3h-3zM375 0h3v3h-3zM159 90h3v3h-3zM156 66h3v3h-3zM291 354h3v3h-3zM12 405h3v3h-3zM57 45h3v3h-3zM336 462h3v3h-3zM234 144h3v3h-3zM177 246h3v3h-3zM153 186h3v3h-3zM186 441h3v3h-3zM231 345h3v3h-3zM108 306h3v3h-3zM375 141h3v3h-3zM222 147h3v3h-3zM57 468h3v3h-3zM441 303h3v3h-3zM135 402h3v3h-3zM132 447h3v3h-3zM219 234h3v3h-3zM324 441h3v3h-3zM135 378h3v3h-3zM330 414h3v3h-3zM102 426h3v3h-3zM369 6h3v3h-3zM21 228h3v3h-3zM129 336h3v3h-3zM330 306h3v3h-3zM36 306h3v3h-3zM9 459h3v3h-3zM477 450h3v3h-3zM45 384h3v3h-3zM201 333h3v3h-3zM336 162h3v3h-3zM306 255h3v3h-3zM402 183h3v3h-3zM99 369h3v3h-3zM120 339h3v3h-3zM174 252h3v3h-3zM306 420h3v3h-3zM9 207h3v3h-3zM384 222h3v3h-3zM423 228h3v3h-3zM192 111h3v3h-3zM117 267h3v3h-3z"/><path fill="#ffd0e7" d="M294 51h3v3h-3zM405 333h3v3h-3zM471 393h3v3h-3zM177 207h3v3h-3zM420 456h3v3h-3zM36 444h3v3h-3zM213 54h3v3h-3zM444 72h3v3h-3zM300 267h3v3h-3zM369 27h3v3h-3zM408 39h3v3h-3zM54 261h3v3h-3zM99 93h3v3h-3zM381 108h3v3h-3zM462 381h3v3h-3zM465 12h3v3h-3zM468 174h3v3h-3zM417 102h3v3h-3zM375 432h3v3h-3zM192 303h3v3h-3zM294 105h3v3h-3zM414 369h3v3h-3zM348 180h3v3h-3zM24 189h3v3h-3zM111 273h3v3h-3zM237 27h3v3h-3zM285 327h3v3h-3zM48 90h3v3h-3zM93 192h3v3h-3zM183 216h3v3h-3zM201 48h3v3h-3zM228 354h3v3h-3zM81 477h3v3h-3zM96 360h3v3h-3zM201 93h3v3h-3zM195 444h3v3h-3zM429 252h3v3h-3zM24 42h3v3h-3z"/><path fill="#dfdcf8" d="M162 159h3v3h-3zM291 447h3v3h-3zM93 375h3v3h-3zM306 27h3v3h-3zM153 408h3v3h-3zM342 375h3v3h-3zM189 276h3v3h-3zM252 18h3v3h-3zM135 264h3v3h-3zM66 156h3v3h-3zM468 198h3v3h-3zM261 105h3v3h-3zM321 9h3v3h-3zM342 417h3v3h-3zM390 72h3v3h-3zM246 465h3v3h-3zM378 72h3v3h-3zM342 204h3v3h-3zM9 267h3v3h-3zM276 429h3v3h-3zM93 9h3v3h-3zM402 168h3v3h-3zM279 171h3v3h-3z"/></pattern></defs>
<rect x="10" y="9" width="2112" height="1466" fill="url(#dither)"/>
<g stroke="#0a0a0a" fill="none" stroke-linecap="butt">
<path stroke-width="4.7" d="M275 33 H2054"/>
<path stroke-width="5.4" d="M291 30.85 V1286"/>
<path stroke-width="4.8" d="M2052.3 30.85 V1297.5"/>
<path stroke-width="4.5" d="M288.3 1271.8 H2054"/>
<path stroke-width="4.5" d="M260 1218.4H291M275 1086.8H291M260 955.1H291M275 823.5H291M260 691.9H291M275 560.2H291M260 428.6H291M275 296.9H291M260 165.3H291"/>
<path stroke-width="4.9" d="M451.0 1271.8V1297.5M611.0 1271.8V1286M771.0 1271.8V1297.5M931.0 1271.8V1286M1091.0 1271.8V1297.5M1251.0 1271.8V1286M1411.0 1271.8V1297.5M1571.0 1271.8V1286M1731.0 1271.8V1297.5M1891.0 1271.8V1286"/>
</g>
<g fill="none" stroke-width="4.4" stroke-linejoin="round" stroke-linecap="butt">
<path stroke="#0a0a0a" d="M292.0 1126.5C292.6 1125.1 294.4 1120.9 295.4 1118.1C296.4 1115.2 297.3 1112.4 298.1 1109.5C298.9 1106.6 299.6 1103.7 300.3 1100.7C300.9 1097.8 301.5 1094.8 302.1 1091.9C302.6 1088.9 303.2 1086.0 303.7 1083.0C304.2 1080.0 304.8 1077.1 305.3 1074.1C305.8 1071.1 306.4 1068.2 307.0 1065.2C307.5 1062.2 308.1 1059.3 308.6 1056.3C309.2 1053.4 309.8 1050.4 310.4 1047.5C310.9 1044.5 311.5 1041.5 312.1 1038.6C312.7 1035.6 313.3 1032.7 313.9 1029.7C314.5 1026.8 315.1 1023.8 315.6 1020.9C316.2 1017.9 316.8 1015.0 317.4 1012.0C318.0 1009.1 318.6 1006.1 319.2 1003.2C319.8 1000.2 320.3 997.3 320.9 994.3C321.5 991.4 322.1 988.4 322.7 985.5C323.2 982.5 323.8 979.6 324.3 976.6C324.9 973.6 325.5 970.7 326.0 967.7C326.5 964.8 327.1 961.8 327.6 958.8C328.1 955.9 328.7 952.9 329.2 949.9C329.7 947.0 330.2 944.0 330.7 941.0C331.2 938.1 331.7 935.1 332.1 932.1C332.6 929.1 333.1 926.2 333.6 923.2C334.0 920.2 334.5 917.2 334.9 914.3C335.4 911.3 335.8 908.3 336.3 905.3C336.7 902.3 337.2 899.4 337.6 896.4C338.0 893.4 338.4 890.4 338.9 887.4C339.3 884.4 339.7 881.4 340.1 878.5C340.5 875.5 341.0 872.5 341.4 869.5C341.8 866.5 342.2 863.5 342.6 860.5C343.0 857.6 343.4 854.6 343.8 851.6C344.2 848.6 344.6 845.6 345.0 842.6C345.4 839.6 345.8 836.6 346.2 833.6C346.6 830.7 347.0 827.7 347.4 824.7C347.8 821.7 348.1 818.7 348.5 815.7C348.9 812.7 349.3 809.7 349.7 806.8C350.1 803.8 350.5 800.8 350.9 797.8C351.3 794.8 351.7 791.8 352.1 788.8C352.5 785.9 352.9 782.9 353.3 779.9C353.8 776.9 354.2 773.9 354.6 771.0C355.0 768.0 355.4 765.0 355.8 762.0C356.3 759.1 356.7 756.1 357.1 753.1C357.6 750.1 358.0 747.2 358.4 744.2C358.9 741.2 359.3 738.2 359.8 735.3C360.2 732.3 360.6 729.3 361.1 726.4C361.5 723.4 362.0 720.4 362.4 717.5C362.9 714.5 363.4 711.5 363.8 708.6C364.3 705.6 364.7 702.6 365.2 699.7C365.6 696.7 366.1 693.7 366.5 690.8C367.0 687.8 367.5 684.8 367.9 681.8C368.4 678.9 368.8 675.9 369.3 672.9C369.7 670.0 370.2 667.0 370.6 664.0C371.1 661.0 371.5 658.1 372.0 655.1C372.4 652.1 372.9 649.1 373.3 646.2C373.7 643.2 374.2 640.2 374.6 637.2C375.0 634.2 375.5 631.3 375.9 628.3C376.3 625.3 376.7 622.3 377.1 619.3C377.6 616.3 378.0 613.3 378.4 610.3C378.8 607.3 379.2 604.3 379.6 601.4C380.0 598.4 380.4 595.4 380.8 592.4C381.2 589.4 381.6 586.4 382.0 583.4C382.4 580.4 382.8 577.4 383.2 574.4C383.5 571.4 383.9 568.3 384.3 565.3C384.7 562.3 385.1 559.3 385.5 556.3C385.9 553.3 386.3 550.3 386.7 547.3C387.1 544.3 387.5 541.3 387.9 538.3C388.3 535.3 388.7 532.3 389.1 529.3C389.6 526.3 390.0 523.3 390.4 520.4C390.8 517.4 391.3 514.4 391.7 511.4C392.1 508.4 392.6 505.4 393.0 502.4C393.5 499.4 393.9 496.5 394.4 493.5C394.8 490.5 395.3 487.5 395.8 484.5C396.3 481.6 396.8 478.6 397.3 475.6C397.8 472.7 398.3 469.7 398.8 466.7C399.3 463.8 399.8 460.8 400.4 457.9C400.9 454.9 401.5 452.0 402.0 449.0C402.6 446.1 403.2 443.1 403.8 440.2C404.4 437.3 405.0 434.4 405.6 431.4C406.2 428.5 406.8 425.6 407.5 422.7C408.1 419.8 408.8 416.9 409.5 414.0C410.1 411.1 410.8 408.2 411.5 405.3C412.2 402.4 413.0 399.5 413.7 396.6C414.4 393.7 415.2 390.9 415.9 388.0C416.7 385.1 417.5 382.2 418.3 379.4C419.0 376.5 419.8 373.6 420.6 370.7C421.5 367.9 422.3 365.0 423.1 362.1C423.9 359.2 424.7 356.3 425.6 353.5C426.4 350.6 427.3 347.7 428.1 344.8C429.0 341.9 429.8 339.0 430.7 336.1C431.5 333.2 432.4 330.3 433.3 327.4C434.1 324.4 435.0 321.5 435.9 318.6C436.7 315.6 437.6 312.7 438.5 309.7C439.3 306.8 440.2 303.8 441.1 300.8C442.0 297.8 442.9 294.9 443.8 291.9C444.7 288.9 445.6 286.0 446.6 283.1C447.7 280.1 448.7 277.2 449.8 274.4C450.9 271.5 452.1 268.7 453.4 266.0C454.7 263.2 456.0 260.5 457.5 257.9C458.9 255.3 460.5 252.7 462.2 250.3C463.9 247.8 465.7 245.5 467.6 243.2C469.6 240.9 471.7 238.8 473.9 236.7C476.2 234.7 478.6 232.8 481.0 231.2C483.5 229.5 486.1 228.0 488.7 226.8C491.3 225.7 494.0 224.7 496.8 224.2C499.5 223.6 502.3 223.4 505.0 223.5C507.8 223.7 510.5 224.3 513.3 225.1C516.0 225.9 518.7 227.2 521.4 228.5C524.1 229.9 526.7 231.6 529.3 233.4C531.9 235.2 534.4 237.2 536.9 239.2C539.3 241.2 541.7 243.4 543.9 245.6C546.2 247.8 548.4 250.0 550.5 252.3C552.6 254.5 554.7 256.8 556.6 259.1C558.6 261.4 560.5 263.8 562.4 266.1C564.3 268.5 566.1 270.9 567.9 273.3C569.7 275.7 571.5 278.1 573.3 280.6C575.0 283.0 576.7 285.5 578.4 287.9C580.2 290.4 581.8 292.9 583.5 295.4C585.2 297.9 586.8 300.4 588.5 302.9C590.1 305.4 591.7 307.9 593.3 310.4C595.0 313.0 596.6 315.5 598.2 318.0C599.8 320.6 601.4 323.1 603.0 325.6C604.6 328.2 606.2 330.7 607.8 333.2C609.4 335.8 611.0 338.3 612.7 340.8C614.3 343.3 615.9 345.9 617.6 348.4C619.2 350.9 620.9 353.4 622.5 355.9C624.2 358.4 625.9 360.9 627.6 363.4C629.3 365.8 631.0 368.3 632.7 370.8C634.5 373.2 636.2 375.7 638.0 378.1C639.7 380.6 641.5 383.0 643.3 385.4C645.1 387.8 646.9 390.2 648.7 392.6C650.6 395.0 652.4 397.4 654.3 399.8C656.1 402.1 658.0 404.5 659.9 406.8C661.8 409.2 663.7 411.5 665.7 413.8C667.6 416.1 669.6 418.4 671.6 420.7C673.6 422.9 675.6 425.2 677.6 427.5C679.6 429.7 681.7 431.9 683.7 434.1C685.8 436.3 687.9 438.5 690.0 440.7C692.2 442.9 694.3 445.0 696.5 447.1C698.6 449.3 700.8 451.4 703.1 453.4C705.3 455.4 707.6 457.4 709.9 459.3C712.3 461.3 714.6 463.1 717.0 464.9C719.5 466.6 722.0 468.3 724.5 469.9C727.0 471.5 729.6 473.0 732.3 474.4C734.9 475.8 737.6 477.1 740.3 478.4C743.0 479.6 745.8 480.8 748.5 482.0C751.3 483.1 754.1 484.2 756.9 485.3C759.7 486.4 762.5 487.5 765.2 488.6C768.0 489.7 770.8 490.9 773.5 492.1C776.2 493.3 778.9 494.6 781.6 496.0C784.2 497.3 786.8 498.7 789.4 500.2C792.0 501.7 794.6 503.3 797.1 504.9C799.6 506.5 802.1 508.1 804.6 509.8C807.1 511.5 809.6 513.3 812.1 515.0C814.6 516.8 817.0 518.6 819.4 520.5C821.9 522.3 824.3 524.2 826.6 526.1C829.0 528.0 831.4 529.9 833.7 531.8C836.1 533.8 838.4 535.7 840.7 537.7C843.0 539.7 845.2 541.7 847.5 543.7C849.7 545.7 851.9 547.7 854.1 549.8C856.3 551.9 858.4 553.9 860.6 556.0C862.7 558.2 864.8 560.3 866.9 562.4C869.0 564.6 871.0 566.8 873.0 569.0C875.1 571.2 877.1 573.4 879.0 575.6C881.0 577.9 882.9 580.1 884.9 582.4C886.8 584.7 888.6 587.1 890.5 589.4C892.3 591.8 894.2 594.1 895.9 596.5C897.7 598.9 899.5 601.4 901.2 603.8C903.0 606.2 904.7 608.7 906.4 611.2C908.0 613.7 909.7 616.2 911.3 618.7C913.0 621.2 914.6 623.8 916.1 626.3C917.7 628.9 919.3 631.5 920.8 634.1C922.4 636.7 923.9 639.3 925.4 641.9C926.9 644.5 928.4 647.2 929.9 649.8C931.3 652.4 932.8 655.1 934.2 657.8C935.6 660.4 937.0 663.1 938.4 665.8C939.8 668.5 941.2 671.2 942.6 673.9C944.0 676.6 945.3 679.3 946.7 682.0C948.0 684.7 949.3 687.4 950.7 690.1C952.0 692.9 953.3 695.6 954.6 698.3C955.9 701.0 957.2 703.8 958.5 706.5C959.8 709.2 961.1 711.9 962.4 714.7C963.6 717.4 964.9 720.1 966.2 722.9C967.4 725.6 968.7 728.3 970.0 731.1C971.2 733.8 972.5 736.5 973.7 739.3C975.0 742.0 976.2 744.7 977.5 747.5C978.7 750.2 980.0 752.9 981.2 755.7C982.5 758.4 983.7 761.1 985.0 763.8C986.3 766.6 987.5 769.3 988.8 772.0C990.1 774.7 991.3 777.5 992.6 780.2C993.9 782.9 995.2 785.6 996.5 788.3C997.7 791.0 999.0 793.7 1000.4 796.4C1001.7 799.1 1003.0 801.8 1004.3 804.5C1005.6 807.2 1007.0 809.9 1008.3 812.6C1009.7 815.3 1011.0 817.9 1012.4 820.6C1013.8 823.3 1015.2 826.0 1016.6 828.6C1018.0 831.3 1019.4 833.9 1020.8 836.6C1022.2 839.2 1023.7 841.9 1025.1 844.5C1026.6 847.1 1028.1 849.8 1029.6 852.4C1031.1 855.0 1032.6 857.6 1034.2 860.2C1035.7 862.8 1037.3 865.4 1038.9 868.0C1040.5 870.6 1042.1 873.1 1043.7 875.7C1045.3 878.2 1047.0 880.8 1048.7 883.3C1050.4 885.8 1052.1 888.3 1053.9 890.7C1055.6 893.2 1057.4 895.6 1059.3 898.0C1061.1 900.4 1063.0 902.8 1064.9 905.1C1066.8 907.4 1068.7 909.7 1070.7 911.9C1072.7 914.2 1074.8 916.4 1076.8 918.5C1078.9 920.7 1081.1 922.8 1083.2 924.8C1085.4 926.9 1087.7 928.9 1090.0 930.8C1092.2 932.7 1094.6 934.6 1097.0 936.4C1099.4 938.2 1101.8 940.0 1104.4 941.7C1106.9 943.3 1109.5 944.9 1112.1 946.5C1114.7 948.0 1117.4 949.4 1120.1 950.8C1122.8 952.1 1125.5 953.4 1128.3 954.6C1131.1 955.8 1133.9 956.9 1136.8 957.8C1139.6 958.8 1142.5 959.7 1145.4 960.5C1148.3 961.2 1151.3 961.9 1154.2 962.5C1157.2 963.0 1160.1 963.4 1163.1 963.8C1166.1 964.1 1169.1 964.3 1172.0 964.4C1175.0 964.5 1178.0 964.5 1181.0 964.4C1184.0 964.4 1187.0 964.2 1190.1 963.9C1193.1 963.7 1196.1 963.3 1199.1 962.9C1202.1 962.5 1205.1 961.9 1208.0 961.4C1211.0 960.8 1214.0 960.1 1217.0 959.4C1219.9 958.7 1222.9 957.9 1225.8 957.1C1228.7 956.3 1231.6 955.4 1234.5 954.5C1237.4 953.5 1240.3 952.5 1243.1 951.5C1246.0 950.5 1248.8 949.4 1251.6 948.3C1254.4 947.2 1257.2 946.1 1260.0 944.9C1262.8 943.8 1265.5 942.6 1268.3 941.4C1271.0 940.2 1273.8 939.0 1276.6 937.8C1279.3 936.6 1282.1 935.4 1284.8 934.2C1287.6 933.0 1290.3 931.7 1293.1 930.5C1295.8 929.3 1298.6 928.1 1301.3 927.0C1304.1 925.8 1306.9 924.6 1309.7 923.5C1312.5 922.4 1315.2 921.2 1318.0 920.1C1320.8 919.0 1323.6 917.9 1326.5 916.9C1329.3 915.8 1332.1 914.8 1334.9 913.8C1337.8 912.8 1340.6 911.8 1343.4 910.9C1346.3 909.9 1349.1 909.0 1352.0 908.1C1354.9 907.2 1357.7 906.4 1360.6 905.5C1363.5 904.7 1366.4 903.9 1369.3 903.2C1372.2 902.5 1375.1 901.8 1378.0 901.1C1380.9 900.4 1383.8 899.8 1386.8 899.2C1389.7 898.7 1392.7 898.1 1395.6 897.7C1398.6 897.2 1401.5 896.7 1404.5 896.4C1407.5 896.0 1410.5 895.6 1413.5 895.4C1416.5 895.1 1419.5 894.8 1422.5 894.7C1425.5 894.5 1428.6 894.4 1431.6 894.3C1434.6 894.3 1437.7 894.3 1440.7 894.3C1443.8 894.4 1446.8 894.5 1449.8 894.7C1452.9 894.9 1455.9 895.1 1459.0 895.4C1462.0 895.7 1465.0 896.0 1468.1 896.5C1471.1 896.9 1474.1 897.4 1477.1 897.9C1480.1 898.4 1483.1 899.0 1486.0 899.7C1489.0 900.3 1491.9 901.1 1494.9 901.8C1497.8 902.6 1500.7 903.5 1503.6 904.4C1506.4 905.3 1509.3 906.3 1512.1 907.3C1514.9 908.4 1517.7 909.5 1520.5 910.6C1523.2 911.8 1525.9 913.0 1528.6 914.3C1531.3 915.6 1534.0 917.0 1536.6 918.4C1539.2 919.8 1541.8 921.2 1544.4 922.7C1547.0 924.2 1549.5 925.8 1552.1 927.4C1554.6 929.0 1557.1 930.6 1559.6 932.3C1562.1 934.0 1564.6 935.7 1567.0 937.4C1569.5 939.1 1571.9 940.9 1574.3 942.7C1576.7 944.5 1579.1 946.3 1581.5 948.1C1583.9 949.9 1586.3 951.8 1588.6 953.6C1591.0 955.5 1593.4 957.4 1595.7 959.2C1598.1 961.1 1600.4 963.0 1602.7 964.9C1605.1 966.9 1607.4 968.8 1609.7 970.7C1612.0 972.6 1614.3 974.6 1616.6 976.5C1618.9 978.5 1621.2 980.5 1623.5 982.4C1625.8 984.4 1628.0 986.4 1630.3 988.4C1632.6 990.3 1634.9 992.3 1637.1 994.3C1639.4 996.3 1641.6 998.3 1643.9 1000.3C1646.2 1002.3 1648.4 1004.3 1650.7 1006.3C1652.9 1008.3 1655.2 1010.3 1657.4 1012.4C1659.7 1014.4 1661.9 1016.4 1664.2 1018.4C1666.4 1020.4 1668.7 1022.4 1670.9 1024.4C1673.2 1026.4 1675.4 1028.4 1677.7 1030.4C1679.9 1032.4 1682.2 1034.4 1684.4 1036.4C1686.7 1038.4 1688.9 1040.4 1691.2 1042.4C1693.5 1044.4 1695.7 1046.4 1698.0 1048.3C1700.3 1050.3 1702.5 1052.3 1704.8 1054.3C1707.1 1056.2 1709.4 1058.2 1711.7 1060.1C1714.0 1062.1 1716.3 1064.0 1718.6 1065.9C1720.9 1067.9 1723.2 1069.8 1725.5 1071.7C1727.8 1073.6 1730.2 1075.5 1732.5 1077.4C1734.8 1079.3 1737.2 1081.2 1739.5 1083.1C1741.9 1084.9 1744.2 1086.8 1746.6 1088.6C1749.0 1090.5 1751.4 1092.3 1753.8 1094.2C1756.2 1096.0 1758.6 1097.8 1761.0 1099.6C1763.4 1101.4 1765.8 1103.2 1768.3 1105.0C1770.7 1106.8 1773.2 1108.5 1775.6 1110.3C1778.1 1112.0 1780.6 1113.8 1783.0 1115.5C1785.5 1117.2 1788.0 1118.9 1790.5 1120.6C1793.0 1122.3 1795.5 1124.0 1798.1 1125.6C1800.6 1127.3 1803.1 1128.9 1805.7 1130.6C1808.2 1132.2 1810.8 1133.8 1813.3 1135.4C1815.9 1137.0 1818.5 1138.6 1821.1 1140.1C1823.7 1141.7 1826.2 1143.2 1828.9 1144.7C1831.5 1146.3 1834.1 1147.8 1836.7 1149.2C1839.3 1150.7 1842.0 1152.2 1844.6 1153.6C1847.3 1155.1 1849.9 1156.5 1852.6 1157.9C1855.2 1159.3 1857.9 1160.7 1860.6 1162.0C1863.3 1163.4 1866.0 1164.7 1868.7 1166.0C1871.4 1167.3 1874.1 1168.6 1876.8 1169.9C1879.6 1171.2 1882.3 1172.4 1885.0 1173.6C1887.8 1174.8 1890.5 1176.0 1893.3 1177.2C1896.0 1178.4 1898.8 1179.5 1901.6 1180.7C1904.4 1181.8 1907.2 1182.9 1910.0 1183.9C1912.8 1185.0 1915.6 1186.1 1918.4 1187.1C1921.2 1188.1 1924.0 1189.1 1926.9 1190.1C1929.7 1191.0 1932.5 1192.0 1935.4 1192.9C1938.3 1193.8 1941.1 1194.7 1944.0 1195.5C1946.9 1196.4 1949.7 1197.2 1952.6 1198.0C1955.5 1198.8 1958.4 1199.5 1961.3 1200.3C1964.2 1201.0 1967.1 1201.7 1970.1 1202.4C1973.0 1203.1 1975.9 1203.7 1978.9 1204.3C1981.8 1204.9 1984.7 1205.5 1987.7 1206.1C1990.7 1206.6 1993.6 1207.1 1996.6 1207.6C1999.6 1208.1 2002.5 1208.5 2005.5 1209.0C2008.5 1209.4 2011.5 1209.8 2014.5 1210.1C2017.5 1210.5 2020.6 1210.8 2023.6 1211.0C2026.6 1211.3 2029.6 1211.6 2032.7 1211.8C2035.7 1212.0 2038.8 1212.2 2041.8 1212.3C2044.9 1212.4 2049.5 1212.5 2051.0 1212.6"/>
<path stroke="#ff0000" d="M292.3 1107.0C292.8 1105.6 294.1 1101.2 295.0 1098.4C295.9 1095.5 296.7 1092.6 297.6 1089.7C298.4 1086.8 299.2 1083.9 300.0 1081.0C300.8 1078.1 301.6 1075.2 302.3 1072.3C303.1 1069.3 303.8 1066.4 304.6 1063.5C305.3 1060.6 306.0 1057.7 306.7 1054.7C307.4 1051.8 308.0 1048.9 308.7 1045.9C309.3 1043.0 310.0 1040.0 310.6 1037.1C311.2 1034.2 311.9 1031.2 312.5 1028.3C313.1 1025.3 313.6 1022.4 314.2 1019.4C314.8 1016.4 315.4 1013.5 315.9 1010.5C316.5 1007.6 317.0 1004.6 317.5 1001.6C318.1 998.7 318.6 995.7 319.1 992.7C319.6 989.8 320.1 986.8 320.6 983.8C321.1 980.8 321.6 977.9 322.1 974.9C322.6 971.9 323.0 968.9 323.5 966.0C324.0 963.0 324.4 960.0 324.9 957.0C325.4 954.0 325.8 951.1 326.3 948.1C326.7 945.1 327.2 942.1 327.6 939.1C328.1 936.1 328.5 933.2 328.9 930.2C329.4 927.2 329.8 924.2 330.3 921.2C330.7 918.2 331.1 915.2 331.6 912.3C332.0 909.3 332.4 906.3 332.9 903.3C333.3 900.3 333.7 897.3 334.2 894.4C334.6 891.4 335.0 888.4 335.5 885.4C335.9 882.4 336.3 879.4 336.8 876.5C337.2 873.5 337.6 870.5 338.1 867.5C338.5 864.5 338.9 861.6 339.4 858.6C339.8 855.6 340.2 852.6 340.6 849.6C341.1 846.6 341.5 843.7 341.9 840.7C342.4 837.7 342.8 834.7 343.2 831.7C343.6 828.7 344.1 825.8 344.5 822.8C344.9 819.8 345.3 816.8 345.8 813.8C346.2 810.8 346.6 807.9 347.0 804.9C347.5 801.9 347.9 798.9 348.3 795.9C348.7 793.0 349.2 790.0 349.6 787.0C350.0 784.0 350.4 781.0 350.8 778.0C351.3 775.1 351.7 772.1 352.1 769.1C352.5 766.1 352.9 763.1 353.4 760.2C353.8 757.2 354.2 754.2 354.6 751.2C355.0 748.2 355.5 745.2 355.9 742.3C356.3 739.3 356.7 736.3 357.1 733.3C357.6 730.3 358.0 727.3 358.4 724.4C358.8 721.4 359.2 718.4 359.7 715.4C360.1 712.4 360.5 709.5 360.9 706.5C361.3 703.5 361.8 700.5 362.2 697.5C362.6 694.5 363.0 691.6 363.4 688.6C363.9 685.6 364.3 682.6 364.7 679.6C365.1 676.6 365.5 673.7 366.0 670.7C366.4 667.7 366.8 664.7 367.2 661.7C367.6 658.7 368.1 655.8 368.5 652.8C368.9 649.8 369.3 646.8 369.7 643.8C370.2 640.8 370.6 637.9 371.0 634.9C371.4 631.9 371.8 628.9 372.3 625.9C372.7 622.9 373.1 620.0 373.5 617.0C374.0 614.0 374.4 611.0 374.8 608.0C375.2 605.0 375.6 602.1 376.1 599.1C376.5 596.1 376.9 593.1 377.3 590.1C377.8 587.1 378.2 584.2 378.6 581.2C379.0 578.2 379.5 575.2 379.9 572.2C380.3 569.2 380.7 566.2 381.2 563.3C381.6 560.3 382.0 557.3 382.5 554.3C382.9 551.3 383.3 548.3 383.7 545.4C384.2 542.4 384.6 539.4 385.1 536.4C385.5 533.4 385.9 530.4 386.4 527.4C386.8 524.5 387.3 521.5 387.7 518.5C388.2 515.5 388.6 512.5 389.1 509.6C389.5 506.6 390.0 503.6 390.5 500.6C390.9 497.6 391.4 494.7 391.9 491.7C392.4 488.7 392.9 485.7 393.4 482.8C393.9 479.8 394.4 476.8 394.9 473.9C395.4 470.9 395.9 467.9 396.4 465.0C396.9 462.0 397.5 459.0 398.0 456.1C398.6 453.1 399.1 450.2 399.7 447.2C400.2 444.2 400.8 441.3 401.4 438.3C402.0 435.4 402.6 432.4 403.2 429.5C403.8 426.5 404.4 423.6 405.0 420.6C405.6 417.7 406.3 414.8 406.9 411.8C407.6 408.9 408.2 406.0 408.9 403.0C409.6 400.1 410.3 397.2 411.0 394.2C411.7 391.3 412.4 388.4 413.1 385.5C413.8 382.6 414.6 379.7 415.3 376.7C416.1 373.8 416.9 370.9 417.7 368.0C418.5 365.1 419.3 362.2 420.1 359.3C420.9 356.4 421.8 353.6 422.7 350.7C423.6 347.8 424.5 344.9 425.5 342.1C426.4 339.2 427.4 336.4 428.5 333.6C429.5 330.7 430.6 327.9 431.8 325.1C432.9 322.3 434.1 319.5 435.4 316.8C436.7 314.0 438.0 311.3 439.4 308.5C440.8 305.8 442.2 303.0 443.8 300.4C445.4 297.8 446.9 295.1 448.9 292.8C450.8 290.4 453.0 288.2 455.5 286.5C458.0 284.8 461.1 283.4 463.9 282.7C466.8 282.1 469.8 282.0 472.6 282.5C475.4 283.0 478.1 284.2 480.7 285.5C483.3 286.9 485.8 288.8 488.2 290.6C490.6 292.4 492.9 294.5 495.2 296.6C497.5 298.6 499.6 300.7 501.8 302.9C503.9 305.0 505.9 307.2 507.9 309.5C509.9 311.7 511.8 314.0 513.7 316.4C515.6 318.7 517.4 321.1 519.2 323.5C520.9 325.9 522.6 328.4 524.3 330.9C526.0 333.4 527.6 335.9 529.2 338.4C530.8 341.0 532.3 343.6 533.8 346.2C535.4 348.8 536.8 351.4 538.3 354.0C539.8 356.7 541.2 359.4 542.6 362.0C544.0 364.7 545.4 367.4 546.8 370.1C548.2 372.8 549.5 375.5 550.9 378.2C552.3 381.0 553.6 383.7 555.0 386.4C556.3 389.1 557.7 391.9 559.0 394.6C560.4 397.3 561.7 400.0 563.1 402.7C564.4 405.5 565.8 408.2 567.2 410.9C568.6 413.6 570.0 416.2 571.4 418.9C572.8 421.6 574.3 424.2 575.7 426.9C577.2 429.5 578.7 432.1 580.2 434.7C581.7 437.3 583.2 439.9 584.8 442.5C586.4 445.0 588.0 447.5 589.7 450.0C591.3 452.5 593.0 455.0 594.7 457.4C596.5 459.9 598.3 462.3 600.1 464.6C601.9 467.0 603.7 469.4 605.6 471.7C607.5 474.0 609.4 476.3 611.3 478.6C613.3 480.9 615.2 483.1 617.2 485.4C619.2 487.6 621.2 489.9 623.3 492.1C625.3 494.3 627.4 496.5 629.4 498.7C631.5 500.9 633.6 503.0 635.7 505.2C637.8 507.4 639.9 509.6 642.0 511.7C644.1 513.9 646.2 516.0 648.3 518.2C650.5 520.4 652.6 522.5 654.7 524.7C656.8 526.8 658.9 529.0 661.0 531.2C663.1 533.4 665.2 535.5 667.3 537.7C669.4 539.9 671.5 542.1 673.5 544.3C675.6 546.5 677.6 548.8 679.7 551.0C681.7 553.3 683.7 555.5 685.7 557.8C687.7 560.1 689.6 562.4 691.6 564.7C693.5 567.0 695.5 569.3 697.5 571.5C699.5 573.8 701.4 576.0 703.5 578.2C705.5 580.4 707.6 582.6 709.7 584.6C711.9 586.7 714.1 588.7 716.3 590.6C718.6 592.6 721.0 594.3 723.4 596.2C725.7 598.0 728.1 599.8 730.4 601.7C732.7 603.7 734.9 605.7 737.0 607.8C739.2 609.8 741.3 612.0 743.3 614.2C745.4 616.4 747.4 618.7 749.4 620.9C751.4 623.2 753.3 625.5 755.3 627.8C757.2 630.1 759.2 632.5 761.1 634.8C763.0 637.1 764.9 639.5 766.8 641.8C768.7 644.1 770.6 646.5 772.5 648.9C774.3 651.2 776.2 653.6 778.0 656.0C779.9 658.4 781.7 660.8 783.5 663.2C785.3 665.6 787.1 668.1 788.9 670.5C790.6 672.9 792.4 675.4 794.1 677.8C795.8 680.3 797.5 682.8 799.2 685.3C800.9 687.8 802.6 690.3 804.2 692.8C805.9 695.3 807.5 697.8 809.1 700.4C810.7 702.9 812.3 705.5 813.9 708.1C815.4 710.6 817.0 713.2 818.5 715.8C820.1 718.4 821.6 721.0 823.1 723.6C824.6 726.2 826.1 728.8 827.6 731.4C829.1 734.1 830.6 736.7 832.1 739.3C833.5 741.9 835.0 744.6 836.5 747.2C837.9 749.9 839.4 752.5 840.8 755.1C842.3 757.8 843.8 760.4 845.2 763.1C846.7 765.7 848.1 768.4 849.6 771.0C851.0 773.7 852.5 776.3 853.9 778.9C855.4 781.6 856.9 784.2 858.3 786.8C859.8 789.5 861.3 792.1 862.8 794.7C864.3 797.3 865.8 799.9 867.3 802.5C868.8 805.1 870.3 807.7 871.8 810.3C873.4 812.9 874.9 815.5 876.5 818.1C878.1 820.6 879.6 823.2 881.2 825.7C882.8 828.3 884.4 830.8 886.0 833.4C887.7 835.9 889.3 838.4 890.9 840.9C892.6 843.4 894.2 845.9 895.9 848.4C897.6 850.9 899.2 853.4 900.9 855.9C902.6 858.4 904.3 860.9 906.0 863.4C907.8 865.8 909.5 868.3 911.2 870.8C912.9 873.2 914.7 875.7 916.4 878.2C918.2 880.6 919.9 883.1 921.7 885.5C923.5 888.0 925.2 890.4 927.0 892.8C928.8 895.3 930.6 897.7 932.4 900.2C934.2 902.6 936.0 905.0 937.8 907.5C939.6 909.9 941.5 912.3 943.3 914.7C945.1 917.1 947.0 919.5 948.9 921.9C950.7 924.3 952.6 926.6 954.6 929.0C956.5 931.3 958.5 933.6 960.5 935.8C962.4 938.1 964.5 940.3 966.5 942.5C968.6 944.6 970.7 946.7 972.9 948.8C975.1 950.8 977.3 952.8 979.6 954.8C981.8 956.7 984.1 958.6 986.5 960.4C988.9 962.2 991.3 963.9 993.8 965.7C996.2 967.4 998.7 969.0 1001.2 970.7C1003.8 972.3 1006.3 973.9 1008.9 975.5C1011.5 977.1 1014.1 978.7 1016.7 980.2C1019.3 981.8 1022.0 983.3 1024.6 984.8C1027.2 986.4 1029.9 987.9 1032.5 989.5C1035.1 991.0 1037.8 992.6 1040.4 994.1C1043.1 995.5 1045.7 997.0 1048.4 998.3C1051.1 999.6 1053.8 1000.9 1056.6 1001.9C1059.3 1003.0 1062.1 1003.9 1064.9 1004.6C1067.7 1005.2 1070.6 1005.7 1073.5 1005.9C1076.5 1006.1 1079.5 1005.9 1082.5 1005.7C1085.5 1005.6 1088.6 1005.1 1091.6 1005.1C1094.6 1005.1 1097.6 1005.3 1100.6 1005.5C1103.6 1005.7 1106.6 1006.2 1109.6 1006.5C1112.5 1006.8 1115.5 1007.2 1118.5 1007.4C1121.5 1007.7 1124.5 1007.9 1127.5 1008.0C1130.5 1008.1 1133.5 1008.2 1136.5 1008.2C1139.5 1008.2 1142.5 1008.2 1145.5 1008.1C1148.5 1008.0 1151.5 1007.8 1154.5 1007.6C1157.5 1007.4 1160.5 1007.2 1163.5 1006.9C1166.5 1006.6 1169.5 1006.2 1172.5 1005.9C1175.5 1005.5 1178.5 1005.1 1181.5 1004.7C1184.5 1004.2 1187.5 1003.8 1190.5 1003.3C1193.5 1002.9 1196.5 1002.4 1199.5 1001.9C1202.4 1001.4 1205.4 1000.9 1208.4 1000.4C1211.4 999.9 1214.3 999.5 1217.3 999.0C1220.3 998.5 1223.2 998.0 1226.2 997.5C1229.1 997.1 1232.1 996.6 1235.0 996.1C1238.0 995.6 1241.0 995.2 1243.9 994.7C1246.9 994.2 1249.8 993.7 1252.8 993.2C1255.8 992.8 1258.7 992.3 1261.7 991.8C1264.7 991.3 1267.6 990.8 1270.6 990.3C1273.6 989.7 1276.6 989.2 1279.6 988.7C1282.6 988.2 1285.6 987.6 1288.6 987.2C1291.6 986.7 1294.6 986.3 1297.6 985.9C1300.6 985.6 1303.6 985.3 1306.6 985.2C1309.6 985.0 1312.6 985.0 1315.6 985.1C1318.6 985.3 1321.5 985.6 1324.5 986.0C1327.4 986.4 1330.4 987.1 1333.3 987.7C1336.2 988.3 1339.2 989.0 1342.1 989.6C1345.1 990.3 1348.0 990.9 1351.0 991.5C1354.0 992.0 1357.0 992.5 1359.9 993.0C1362.9 993.5 1365.9 994.0 1368.9 994.5C1371.9 995.0 1374.8 995.5 1377.8 996.2C1380.7 996.8 1383.6 997.6 1386.5 998.4C1389.4 999.3 1392.2 1000.2 1395.0 1001.3C1397.9 1002.3 1400.7 1003.5 1403.5 1004.6C1406.3 1005.8 1409.0 1007.0 1411.8 1008.2C1414.6 1009.4 1417.4 1010.7 1420.1 1011.9C1422.9 1013.1 1425.7 1014.2 1428.4 1015.4C1431.2 1016.6 1434.0 1017.8 1436.7 1019.0C1439.5 1020.2 1442.2 1021.4 1444.9 1022.7C1447.6 1023.9 1450.4 1025.2 1453.1 1026.5C1455.7 1027.8 1458.4 1029.1 1461.1 1030.5C1463.7 1031.8 1466.3 1033.3 1468.9 1034.8C1471.5 1036.2 1474.1 1037.7 1476.7 1039.3C1479.2 1040.9 1481.8 1042.4 1484.3 1044.1C1486.8 1045.7 1489.3 1047.3 1491.8 1049.0C1494.3 1050.7 1496.8 1052.4 1499.3 1054.1C1501.8 1055.8 1504.3 1057.6 1506.7 1059.3C1509.2 1061.1 1511.6 1062.8 1514.1 1064.6C1516.6 1066.4 1519.0 1068.1 1521.5 1069.9C1523.9 1071.6 1526.4 1073.4 1528.9 1075.2C1531.3 1076.9 1533.8 1078.7 1536.3 1080.4C1538.7 1082.1 1541.2 1083.8 1543.7 1085.5C1546.2 1087.2 1548.7 1088.9 1551.2 1090.5C1553.8 1092.2 1556.3 1093.8 1558.9 1095.4C1561.4 1097.0 1564.0 1098.5 1566.6 1100.0C1569.2 1101.5 1571.8 1103.0 1574.4 1104.4C1577.1 1105.8 1579.7 1107.2 1582.4 1108.5C1585.1 1109.8 1587.8 1111.0 1590.6 1112.2C1593.3 1113.5 1596.1 1114.6 1598.8 1115.8C1601.6 1117.0 1604.4 1118.2 1607.1 1119.4C1609.8 1120.7 1612.5 1121.9 1615.2 1123.3C1617.9 1124.7 1620.5 1126.2 1623.1 1127.7C1625.7 1129.3 1628.2 1130.9 1630.8 1132.5C1633.3 1134.1 1635.9 1135.8 1638.5 1137.2C1641.1 1138.7 1643.8 1140.1 1646.5 1141.4C1649.2 1142.7 1652.0 1143.8 1654.8 1144.8C1657.7 1145.9 1660.5 1146.9 1663.4 1147.8C1666.3 1148.8 1669.2 1149.7 1672.0 1150.8C1674.8 1151.8 1677.7 1152.8 1680.4 1154.0C1683.2 1155.1 1685.9 1156.4 1688.6 1157.8C1691.2 1159.2 1693.8 1160.7 1696.5 1162.2C1699.1 1163.7 1701.7 1165.2 1704.4 1166.6C1707.0 1167.9 1709.8 1169.2 1712.5 1170.5C1715.2 1171.7 1718.0 1172.9 1720.8 1174.2C1723.5 1175.5 1726.2 1176.7 1728.9 1178.1C1731.6 1179.5 1734.3 1181.0 1736.9 1182.5C1739.5 1184.0 1742.1 1185.6 1744.7 1187.0C1747.4 1188.5 1750.0 1189.9 1752.7 1191.1C1755.5 1192.3 1758.3 1193.2 1761.1 1194.0C1764.0 1194.8 1766.9 1195.3 1769.9 1196.0C1772.8 1196.6 1775.8 1197.2 1778.6 1198.1C1781.5 1199.1 1785.6 1201.1 1787.0 1201.7L1787.0 1201.7C1797.5 1202.1 1828.3 1203.0 1849.8 1204.0C1871.3 1205.0 1894.0 1206.4 1916.0 1207.4C1938.0 1208.4 1959.5 1209.1 1982.0 1210.0C2004.5 1210.9 2039.5 1212.2 2051.0 1212.6"/>
<path stroke="#009200" d="M292.3 1147.3C293.3 1146.1 296.5 1142.6 298.3 1140.1C300.2 1137.6 301.8 1135.1 303.3 1132.5C304.9 1129.9 306.2 1127.2 307.4 1124.5C308.7 1121.8 309.8 1119.1 310.8 1116.3C311.8 1113.5 312.7 1110.7 313.5 1107.9C314.4 1105.0 315.1 1102.1 315.8 1099.2C316.6 1096.3 317.2 1093.4 317.9 1090.5C318.5 1087.5 319.1 1084.6 319.7 1081.7C320.3 1078.7 321.0 1075.8 321.6 1072.8C322.2 1069.9 322.8 1066.9 323.5 1064.0C324.1 1061.0 324.7 1058.1 325.4 1055.1C326.0 1052.2 326.7 1049.2 327.3 1046.3C328.0 1043.3 328.6 1040.4 329.3 1037.4C329.9 1034.5 330.6 1031.5 331.2 1028.6C331.9 1025.6 332.5 1022.7 333.2 1019.7C333.9 1016.8 334.5 1013.8 335.2 1010.9C335.9 1007.9 336.5 1005.0 337.2 1002.0C337.9 999.1 338.5 996.1 339.2 993.1C339.9 990.2 340.5 987.2 341.2 984.3C341.8 981.3 342.5 978.4 343.2 975.4C343.8 972.5 344.5 969.5 345.2 966.6C345.8 963.6 346.5 960.6 347.1 957.7C347.8 954.7 348.4 951.8 349.1 948.8C349.7 945.9 350.4 942.9 351.0 940.0C351.7 937.0 352.3 934.0 353.0 931.1C353.6 928.1 354.2 925.2 354.8 922.2C355.5 919.3 356.1 916.3 356.7 913.3C357.3 910.4 357.9 907.4 358.6 904.5C359.2 901.5 359.8 898.6 360.4 895.6C360.9 892.7 361.5 889.7 362.1 886.7C362.7 883.8 363.3 880.8 363.8 877.9C364.4 874.9 365.0 872.0 365.5 869.0C366.1 866.1 366.6 863.1 367.1 860.2C367.7 857.2 368.2 854.3 368.7 851.3C369.3 848.4 369.8 845.4 370.3 842.4C370.8 839.5 371.4 836.5 371.9 833.6C372.4 830.6 372.9 827.7 373.4 824.7C373.9 821.8 374.4 818.8 375.0 815.9C375.5 812.9 376.0 810.0 376.5 807.0C377.0 804.1 377.5 801.2 378.1 798.2C378.6 795.3 379.1 792.3 379.7 789.4C380.2 786.4 380.7 783.5 381.3 780.5C381.8 777.6 382.4 774.6 383.0 771.7C383.5 768.8 384.1 765.8 384.7 762.9C385.3 759.9 385.9 757.0 386.5 754.1C387.1 751.1 387.7 748.2 388.3 745.2C388.9 742.3 389.6 739.4 390.2 736.4C390.9 733.5 391.6 730.6 392.3 727.6C392.9 724.7 393.6 721.8 394.4 718.8C395.1 715.9 395.8 713.0 396.6 710.0C397.3 707.1 398.1 704.2 398.9 701.2C399.7 698.3 400.5 695.4 401.3 692.5C402.2 689.5 403.0 686.6 403.9 683.7C404.8 680.8 405.7 677.8 406.6 674.9C407.6 672.0 408.5 669.1 409.5 666.2C410.5 663.2 411.5 660.3 412.5 657.4C413.5 654.5 414.6 651.6 415.7 648.7C416.8 645.7 417.9 642.8 419.0 639.9C420.2 637.0 421.4 634.1 422.6 631.2C423.8 628.4 425.1 625.5 426.5 622.8C427.8 620.0 429.3 617.3 430.8 614.7C432.3 612.1 433.9 609.5 435.7 607.1C437.4 604.7 439.2 602.4 441.2 600.3C443.1 598.1 445.2 596.1 447.4 594.2C449.7 592.4 452.0 590.7 454.6 589.3C457.1 587.8 459.7 586.5 462.4 585.5C465.1 584.4 468.0 583.6 470.8 583.1C473.6 582.5 476.5 582.2 479.4 582.2C482.2 582.2 485.1 582.4 487.9 582.9C490.7 583.4 493.6 584.2 496.3 585.2C499.1 586.1 501.9 587.3 504.6 588.6C507.3 590.0 510.0 591.5 512.7 593.1C515.3 594.7 517.9 596.5 520.5 598.4C523.0 600.2 525.5 602.1 528.0 604.1C530.4 606.1 532.8 608.1 535.1 610.2C537.4 612.2 539.7 614.3 541.9 616.4C544.1 618.5 546.2 620.6 548.3 622.8C550.4 625.0 552.5 627.2 554.5 629.4C556.5 631.6 558.5 633.9 560.4 636.2C562.3 638.4 564.2 640.7 566.1 643.1C567.9 645.4 569.8 647.7 571.6 650.1C573.4 652.5 575.1 654.9 576.9 657.3C578.6 659.7 580.4 662.2 582.1 664.6C583.8 667.1 585.5 669.6 587.2 672.1C588.9 674.6 590.6 677.1 592.3 679.6C593.9 682.1 595.6 684.7 597.3 687.2C598.9 689.7 600.6 692.3 602.3 694.8C603.9 697.4 605.6 699.9 607.3 702.5C608.9 705.0 610.6 707.5 612.3 710.1C614.0 712.6 615.7 715.1 617.4 717.6C619.1 720.2 620.8 722.7 622.5 725.1C624.3 727.6 626.0 730.1 627.8 732.5C629.6 735.0 631.4 737.4 633.2 739.8C635.1 742.2 636.9 744.6 638.8 746.9C640.7 749.3 642.6 751.6 644.5 753.9C646.5 756.1 648.4 758.4 650.5 760.6C652.5 762.8 654.5 765.0 656.6 767.1C658.7 769.2 660.9 771.3 663.0 773.3C665.2 775.3 667.5 777.3 669.7 779.3C672.0 781.2 674.3 783.1 676.7 784.9C679.1 786.8 681.5 788.6 683.9 790.3C686.3 792.1 688.8 793.8 691.3 795.5C693.8 797.2 696.3 798.9 698.9 800.6C701.4 802.2 703.9 803.8 706.5 805.5C709.1 807.1 711.6 808.7 714.2 810.3C716.8 811.9 719.4 813.5 722.0 815.1C724.5 816.7 727.1 818.3 729.7 819.9C732.2 821.5 734.8 823.1 737.3 824.7C739.9 826.3 742.4 827.9 745.0 829.5C747.5 831.2 750.0 832.8 752.5 834.5C755.0 836.1 757.5 837.8 760.0 839.4C762.5 841.1 765.0 842.8 767.5 844.5C769.9 846.1 772.4 847.8 774.9 849.6C777.3 851.3 779.8 853.0 782.2 854.7C784.7 856.5 787.1 858.2 789.6 860.0C792.0 861.7 794.4 863.5 796.8 865.3C799.3 867.1 801.7 868.9 804.1 870.7C806.5 872.5 808.9 874.3 811.3 876.2C813.6 878.0 816.0 879.8 818.4 881.7C820.8 883.6 823.1 885.4 825.5 887.3C827.8 889.2 830.2 891.1 832.5 893.0C834.8 895.0 837.2 896.9 839.5 898.8C841.8 900.8 844.1 902.7 846.4 904.7C848.7 906.7 850.9 908.7 853.2 910.7C855.5 912.7 857.7 914.7 860.0 916.7C862.2 918.7 864.4 920.7 866.7 922.8C868.9 924.9 871.1 926.9 873.3 929.0C875.5 931.1 877.6 933.2 879.8 935.3C882.0 937.4 884.1 939.5 886.3 941.6C888.4 943.8 890.5 945.9 892.6 948.1C894.7 950.2 896.8 952.4 898.9 954.6C901.0 956.8 903.1 959.0 905.1 961.2C907.2 963.4 909.2 965.7 911.2 967.9C913.2 970.2 915.2 972.4 917.2 974.7C919.2 977.0 921.2 979.2 923.1 981.5C925.1 983.8 927.0 986.1 929.0 988.4C931.0 990.7 932.9 993.0 934.8 995.3C936.8 997.6 938.7 999.9 940.7 1002.2C942.6 1004.5 944.6 1006.8 946.5 1009.1C948.5 1011.4 950.4 1013.7 952.4 1016.0C954.4 1018.2 956.4 1020.5 958.4 1022.7C960.4 1025.0 962.4 1027.2 964.4 1029.4C966.4 1031.6 968.5 1033.8 970.6 1036.0C972.6 1038.1 974.7 1040.3 976.9 1042.4C979.0 1044.5 981.1 1046.6 983.3 1048.7C985.5 1050.7 987.7 1052.8 989.9 1054.8C992.2 1056.8 994.4 1058.7 996.7 1060.7C999.0 1062.6 1001.4 1064.5 1003.8 1066.3C1006.2 1068.2 1008.6 1070.0 1011.1 1071.8C1013.6 1073.5 1016.1 1075.2 1018.6 1076.9C1021.2 1078.6 1023.8 1080.2 1026.5 1081.7C1029.1 1083.3 1031.8 1084.8 1034.5 1086.2C1037.2 1087.6 1040.0 1089.0 1042.7 1090.3C1045.5 1091.5 1048.3 1092.7 1051.1 1093.9C1054.0 1095.0 1056.8 1096.0 1059.7 1096.9C1062.5 1097.9 1065.4 1098.7 1068.3 1099.5C1071.2 1100.2 1074.2 1100.9 1077.1 1101.4C1080.0 1101.9 1083.0 1102.4 1085.9 1102.7C1088.9 1103.0 1091.8 1103.2 1094.8 1103.4C1097.8 1103.6 1100.8 1103.6 1103.7 1103.6C1106.7 1103.6 1109.7 1103.6 1112.7 1103.5C1115.7 1103.3 1118.7 1103.2 1121.7 1103.0C1124.7 1102.8 1127.7 1102.5 1130.8 1102.2C1133.8 1102.0 1136.8 1101.7 1139.8 1101.4C1142.8 1101.1 1145.8 1100.8 1148.9 1100.5C1151.9 1100.2 1154.9 1099.8 1157.9 1099.5C1160.9 1099.2 1164.0 1098.9 1167.0 1098.5C1170.0 1098.2 1173.0 1097.8 1176.0 1097.5C1179.0 1097.1 1182.1 1096.7 1185.1 1096.3C1188.1 1095.9 1191.1 1095.5 1194.1 1095.1C1197.1 1094.7 1200.1 1094.3 1203.0 1093.8C1206.0 1093.3 1209.0 1092.9 1212.0 1092.4C1215.0 1091.9 1217.9 1091.3 1220.9 1090.8C1223.8 1090.3 1226.8 1089.7 1229.7 1089.1C1232.7 1088.6 1235.6 1088.0 1238.6 1087.4C1241.5 1086.8 1244.5 1086.2 1247.4 1085.5C1250.3 1084.9 1253.3 1084.3 1256.2 1083.6C1259.1 1083.0 1262.0 1082.4 1265.0 1081.7C1267.9 1081.1 1270.8 1080.4 1273.7 1079.8C1276.7 1079.1 1279.6 1078.5 1282.5 1077.8C1285.4 1077.2 1288.4 1076.6 1291.3 1075.9C1294.2 1075.3 1297.2 1074.7 1300.1 1074.1C1303.0 1073.4 1306.0 1072.8 1308.9 1072.2C1311.9 1071.6 1314.8 1071.0 1317.8 1070.5C1320.7 1069.9 1323.7 1069.4 1326.6 1068.8C1329.6 1068.3 1332.6 1067.8 1335.6 1067.3C1338.5 1066.8 1341.5 1066.3 1344.5 1065.9C1347.5 1065.4 1350.5 1065.0 1353.5 1064.6C1356.5 1064.2 1359.5 1063.8 1362.6 1063.5C1365.6 1063.1 1368.6 1062.8 1371.6 1062.5C1374.7 1062.2 1377.7 1061.9 1380.7 1061.7C1383.8 1061.5 1386.8 1061.3 1389.8 1061.1C1392.9 1060.9 1395.9 1060.8 1398.9 1060.7C1402.0 1060.6 1405.0 1060.5 1408.1 1060.4C1411.1 1060.4 1414.1 1060.4 1417.2 1060.4C1420.2 1060.4 1423.2 1060.5 1426.2 1060.6C1429.3 1060.7 1432.3 1060.8 1435.3 1061.0C1438.3 1061.2 1441.3 1061.4 1444.3 1061.7C1447.3 1061.9 1450.3 1062.2 1453.3 1062.5C1456.3 1062.9 1459.3 1063.2 1462.2 1063.7C1465.2 1064.1 1468.2 1064.5 1471.1 1065.1C1474.1 1065.6 1477.0 1066.1 1479.9 1066.7C1482.9 1067.3 1485.8 1067.9 1488.7 1068.6C1491.6 1069.3 1494.5 1070.0 1497.3 1070.8C1500.2 1071.6 1503.1 1072.4 1505.9 1073.3C1508.8 1074.1 1511.6 1075.0 1514.5 1076.0C1517.3 1076.9 1520.1 1077.9 1522.9 1078.9C1525.7 1079.9 1528.5 1080.9 1531.3 1082.0C1534.1 1083.0 1536.9 1084.1 1539.7 1085.3C1542.5 1086.4 1545.3 1087.5 1548.0 1088.7C1550.8 1089.9 1553.5 1091.1 1556.3 1092.3C1559.1 1093.5 1561.8 1094.8 1564.5 1096.0C1567.3 1097.3 1570.0 1098.5 1572.8 1099.8C1575.5 1101.1 1578.2 1102.4 1581.0 1103.7C1583.7 1105.1 1586.4 1106.4 1589.1 1107.7C1591.9 1109.1 1594.6 1110.4 1597.3 1111.8C1600.0 1113.1 1602.7 1114.5 1605.5 1115.8C1608.2 1117.2 1610.9 1118.5 1613.6 1119.9C1616.3 1121.3 1619.1 1122.6 1621.8 1124.0C1624.5 1125.3 1627.2 1126.7 1630.0 1128.0C1632.7 1129.4 1635.4 1130.7 1638.2 1132.0C1640.9 1133.4 1643.6 1134.7 1646.4 1136.0C1649.1 1137.3 1651.8 1138.6 1654.6 1139.8C1657.4 1141.1 1660.1 1142.4 1662.9 1143.6C1665.6 1144.9 1668.4 1146.1 1671.2 1147.3C1673.9 1148.5 1676.7 1149.7 1679.5 1150.9C1682.3 1152.1 1685.1 1153.2 1687.8 1154.4C1690.6 1155.5 1693.4 1156.6 1696.2 1157.8C1699.0 1158.9 1701.8 1160.0 1704.7 1161.0C1707.5 1162.1 1710.3 1163.2 1713.1 1164.2C1715.9 1165.3 1718.8 1166.3 1721.6 1167.3C1724.4 1168.3 1727.3 1169.3 1730.1 1170.2C1733.0 1171.2 1735.8 1172.2 1738.7 1173.1C1741.5 1174.0 1744.4 1174.9 1747.2 1175.8C1750.1 1176.7 1753.0 1177.6 1755.9 1178.5C1758.7 1179.3 1761.6 1180.1 1764.5 1181.0C1767.4 1181.8 1770.3 1182.6 1773.2 1183.3C1776.1 1184.1 1779.0 1184.9 1781.9 1185.6C1784.8 1186.3 1787.7 1187.0 1790.6 1187.7C1793.6 1188.4 1796.5 1189.1 1799.4 1189.8C1802.3 1190.4 1805.3 1191.0 1808.2 1191.7C1811.2 1192.3 1814.1 1192.9 1817.1 1193.5C1820.0 1194.0 1823.0 1194.6 1825.9 1195.1C1828.9 1195.7 1831.8 1196.2 1834.8 1196.7C1837.8 1197.2 1840.7 1197.7 1843.7 1198.2C1846.7 1198.7 1849.7 1199.2 1852.7 1199.6C1855.6 1200.1 1858.6 1200.5 1861.6 1200.9C1864.6 1201.3 1867.6 1201.8 1870.6 1202.2C1873.6 1202.5 1876.6 1202.9 1879.6 1203.3C1882.6 1203.7 1885.6 1204.0 1888.6 1204.4C1891.6 1204.7 1894.6 1205.1 1897.6 1205.4C1900.6 1205.7 1903.6 1206.1 1906.6 1206.4C1909.6 1206.7 1912.6 1207.0 1915.6 1207.3C1918.7 1207.6 1921.7 1207.8 1924.7 1208.1C1927.7 1208.4 1930.7 1208.6 1933.7 1208.9C1936.7 1209.2 1939.8 1209.4 1942.8 1209.7C1945.8 1209.9 1948.8 1210.2 1951.8 1210.4C1954.8 1210.6 1957.9 1210.9 1960.9 1211.1C1963.9 1211.3 1966.9 1211.5 1969.9 1211.7C1972.9 1212.0 1976.0 1212.2 1979.0 1212.4C1982.0 1212.6 1985.0 1212.8 1988.0 1213.0C1991.0 1213.2 1994.0 1213.4 1997.0 1213.6C2000.1 1213.8 2003.1 1214.0 2006.1 1214.2C2009.1 1214.4 2012.1 1214.6 2015.1 1214.8C2018.1 1215.0 2021.1 1215.2 2024.1 1215.4C2027.1 1215.6 2030.1 1215.8 2033.1 1216.0C2036.1 1216.2 2039.1 1216.4 2042.0 1216.7C2045.0 1216.9 2049.5 1217.2 2051.0 1217.3"/>
<path stroke="#0000ff" d="M292.5 1139.0C293.2 1137.7 295.4 1133.7 296.8 1131.1C298.1 1128.4 299.3 1125.6 300.5 1122.9C301.7 1120.1 302.8 1117.3 303.8 1114.5C304.9 1111.7 305.8 1108.8 306.8 1105.9C307.7 1103.1 308.5 1100.2 309.4 1097.2C310.2 1094.3 311.0 1091.4 311.8 1088.5C312.6 1085.5 313.3 1082.6 314.0 1079.7C314.8 1076.7 315.5 1073.8 316.2 1070.8C316.9 1067.9 317.6 1065.0 318.2 1062.0C318.9 1059.1 319.6 1056.1 320.2 1053.2C320.9 1050.2 321.5 1047.3 322.1 1044.4C322.8 1041.4 323.4 1038.5 324.0 1035.5C324.6 1032.6 325.2 1029.6 325.8 1026.7C326.4 1023.7 326.9 1020.8 327.5 1017.8C328.1 1014.9 328.6 1011.9 329.2 1009.0C329.7 1006.0 330.3 1003.1 330.8 1000.1C331.3 997.2 331.9 994.2 332.4 991.3C332.9 988.3 333.4 985.3 333.9 982.4C334.4 979.4 334.9 976.5 335.4 973.5C335.9 970.5 336.4 967.6 336.9 964.6C337.4 961.7 337.9 958.7 338.3 955.7C338.8 952.8 339.3 949.8 339.8 946.8C340.2 943.9 340.7 940.9 341.2 937.9C341.6 935.0 342.1 932.0 342.6 929.0C343.0 926.0 343.5 923.1 344.0 920.1C344.4 917.1 344.9 914.1 345.4 911.2C345.8 908.2 346.3 905.2 346.8 902.2C347.2 899.2 347.7 896.3 348.1 893.3C348.6 890.3 349.1 887.3 349.5 884.3C350.0 881.3 350.4 878.4 350.9 875.4C351.4 872.4 351.8 869.4 352.3 866.4C352.7 863.4 353.2 860.4 353.7 857.5C354.1 854.5 354.6 851.5 355.1 848.5C355.5 845.5 356.0 842.5 356.4 839.5C356.9 836.5 357.4 833.6 357.8 830.6C358.3 827.6 358.7 824.6 359.2 821.6C359.7 818.6 360.1 815.6 360.6 812.6C361.1 809.6 361.5 806.7 362.0 803.7C362.4 800.7 362.9 797.7 363.4 794.7C363.8 791.7 364.3 788.7 364.8 785.8C365.2 782.8 365.7 779.8 366.2 776.8C366.7 773.8 367.1 770.8 367.6 767.8C368.1 764.9 368.5 761.9 369.0 758.9C369.5 755.9 370.0 752.9 370.4 750.0C370.9 747.0 371.4 744.0 371.9 741.0C372.3 738.0 372.8 735.1 373.3 732.1C373.8 729.1 374.3 726.2 374.8 723.2C375.2 720.2 375.7 717.2 376.2 714.3C376.7 711.3 377.2 708.3 377.7 705.4C378.2 702.4 378.7 699.5 379.1 696.5C379.6 693.5 380.1 690.6 380.6 687.6C381.1 684.7 381.6 681.7 382.1 678.8C382.6 675.8 383.1 672.8 383.6 669.9C384.1 667.0 384.7 664.0 385.2 661.1C385.7 658.1 386.2 655.2 386.7 652.2C387.2 649.3 387.7 646.4 388.2 643.4C388.8 640.5 389.3 637.6 389.8 634.6C390.4 631.7 390.9 628.8 391.4 625.8C392.0 622.9 392.5 620.0 393.1 617.0C393.7 614.1 394.2 611.1 394.8 608.2C395.4 605.3 396.0 602.3 396.5 599.4C397.1 596.5 397.7 593.5 398.4 590.6C399.0 587.6 399.6 584.7 400.2 581.7C400.9 578.8 401.5 575.8 402.2 572.9C402.9 569.9 403.5 566.9 404.2 564.0C404.9 561.0 405.6 558.0 406.3 555.0C407.1 552.1 407.8 549.1 408.6 546.1C409.3 543.1 410.1 540.1 410.9 537.1C411.7 534.1 412.5 531.1 413.3 528.1C414.1 525.1 415.0 522.0 415.8 519.0C416.7 516.0 417.6 513.0 418.6 510.0C419.6 507.1 420.7 504.2 421.8 501.3C423.0 498.5 424.3 495.8 425.7 493.2C427.1 490.6 428.6 488.0 430.3 485.7C432.0 483.4 433.9 481.2 436.0 479.2C438.1 477.2 440.4 475.3 442.9 473.8C445.4 472.4 448.1 471.0 450.9 470.3C453.7 469.7 456.7 469.7 459.5 470.1C462.4 470.6 465.3 471.8 468.0 473.0C470.7 474.3 473.3 475.9 475.7 477.6C478.1 479.3 480.3 481.2 482.3 483.2C484.4 485.2 486.3 487.4 488.1 489.6C489.9 491.9 491.6 494.3 493.1 496.8C494.7 499.3 496.1 501.9 497.5 504.6C498.9 507.3 500.2 510.0 501.5 512.8C502.7 515.6 503.9 518.5 505.0 521.4C506.2 524.3 507.3 527.2 508.4 530.1C509.4 533.0 510.5 535.9 511.6 538.8C512.7 541.8 513.7 544.7 514.8 547.6C515.8 550.4 516.9 553.3 518.0 556.2C519.0 559.1 520.1 562.0 521.1 564.9C522.1 567.7 523.2 570.6 524.2 573.5C525.3 576.3 526.3 579.2 527.3 582.0C528.4 584.9 529.4 587.7 530.4 590.6C531.4 593.4 532.5 596.3 533.5 599.1C534.5 601.9 535.5 604.8 536.6 607.6C537.6 610.4 538.6 613.2 539.6 616.1C540.6 618.9 541.6 621.7 542.7 624.5C543.7 627.3 544.7 630.1 545.7 633.0C546.7 635.8 547.7 638.6 548.8 641.4C549.8 644.2 550.8 647.0 551.8 649.8C552.8 652.6 553.8 655.4 554.9 658.2C555.9 661.0 556.9 663.8 557.9 666.6C558.9 669.4 560.0 672.2 561.0 675.0C562.0 677.8 563.1 680.6 564.1 683.4C565.1 686.2 566.1 689.0 567.2 691.8C568.2 694.6 569.3 697.4 570.3 700.2C571.4 703.0 572.4 705.8 573.5 708.6C574.5 711.4 575.6 714.2 576.6 717.0C577.7 719.8 578.8 722.6 579.8 725.4C580.9 728.3 582.0 731.1 583.1 733.9C584.1 736.7 585.2 739.5 586.3 742.3C587.4 745.1 588.5 748.0 589.6 750.8C590.7 753.6 591.9 756.4 593.0 759.2C594.1 762.0 595.3 764.8 596.4 767.6C597.6 770.4 598.7 773.2 599.9 776.0C601.1 778.8 602.2 781.6 603.4 784.4C604.6 787.2 605.8 790.0 607.1 792.8C608.3 795.5 609.5 798.3 610.8 801.1C612.0 803.8 613.3 806.6 614.5 809.3C615.8 812.1 617.1 814.8 618.4 817.6C619.7 820.3 621.1 823.0 622.4 825.7C623.8 828.4 625.1 831.1 626.5 833.8C627.9 836.5 629.3 839.2 630.7 841.8C632.1 844.5 633.6 847.1 635.1 849.8C636.5 852.4 638.0 855.0 639.5 857.6C641.0 860.2 642.5 862.8 644.1 865.4C645.6 867.9 647.2 870.5 648.8 873.0C650.4 875.6 652.0 878.1 653.7 880.6C655.3 883.1 657.0 885.6 658.7 888.1C660.4 890.6 662.1 893.0 663.8 895.5C665.5 897.9 667.3 900.4 669.1 902.8C670.8 905.2 672.6 907.6 674.4 910.0C676.2 912.4 678.0 914.8 679.9 917.2C681.7 919.5 683.5 921.9 685.4 924.3C687.3 926.6 689.1 929.0 691.0 931.3C692.9 933.6 694.8 936.0 696.7 938.3C698.7 940.6 700.6 942.9 702.5 945.2C704.5 947.6 706.4 949.9 708.4 952.2C710.3 954.5 712.3 956.8 714.3 959.0C716.2 961.3 718.2 963.6 720.2 965.9C722.2 968.2 724.2 970.5 726.2 972.8C728.1 975.0 730.1 977.3 732.1 979.6C734.1 981.9 736.2 984.1 738.2 986.4C740.2 988.7 742.2 991.0 744.2 993.2C746.2 995.5 748.2 997.8 750.2 1000.1C752.2 1002.3 754.2 1004.6 756.2 1006.9C758.1 1009.2 760.1 1011.5 762.1 1013.7C764.1 1016.0 766.0 1018.3 768.0 1020.6C769.9 1022.9 771.8 1025.2 773.8 1027.5C775.7 1029.8 777.6 1032.1 779.5 1034.4C781.4 1036.7 783.2 1039.0 785.1 1041.3C787.0 1043.6 788.8 1045.9 790.7 1048.2C792.5 1050.5 794.4 1052.8 796.3 1055.1C798.1 1057.4 800.0 1059.7 801.9 1062.0C803.8 1064.3 805.7 1066.6 807.6 1068.9C809.6 1071.2 811.5 1073.4 813.5 1075.7C815.5 1077.9 817.6 1080.2 819.6 1082.4C821.7 1084.6 823.8 1086.8 825.9 1089.0C828.0 1091.2 830.1 1093.4 832.3 1095.5C834.5 1097.7 836.7 1099.8 838.9 1101.9C841.1 1104.0 843.4 1106.1 845.7 1108.1C847.9 1110.2 850.3 1112.2 852.6 1114.2C854.9 1116.2 857.3 1118.1 859.7 1120.0C862.1 1121.9 864.5 1123.8 866.9 1125.6C869.4 1127.5 871.8 1129.3 874.3 1131.0C876.8 1132.8 879.3 1134.5 881.9 1136.1C884.4 1137.8 887.0 1139.4 889.6 1140.9C892.1 1142.5 894.8 1144.0 897.4 1145.5C900.0 1146.9 902.7 1148.3 905.4 1149.7C908.0 1151.0 910.7 1152.3 913.5 1153.5C916.2 1154.8 918.9 1155.9 921.7 1157.0C924.5 1158.1 927.3 1159.2 930.1 1160.1C932.9 1161.1 935.7 1162.0 938.6 1162.8C941.4 1163.6 944.3 1164.4 947.2 1165.1C950.1 1165.8 953.0 1166.4 955.9 1166.9C958.8 1167.4 961.8 1167.9 964.7 1168.3C967.7 1168.7 970.6 1169.1 973.6 1169.4C976.6 1169.6 979.6 1169.9 982.6 1170.0C985.6 1170.2 988.6 1170.3 991.6 1170.4C994.7 1170.5 997.7 1170.5 1000.7 1170.5C1003.8 1170.4 1006.8 1170.4 1009.8 1170.3C1012.9 1170.2 1015.9 1170.0 1018.9 1169.8C1022.0 1169.7 1025.0 1169.4 1028.1 1169.2C1031.1 1168.9 1034.1 1168.7 1037.2 1168.4C1040.2 1168.1 1043.2 1167.7 1046.2 1167.4C1049.3 1167.1 1052.3 1166.7 1055.3 1166.3C1058.3 1165.9 1061.3 1165.5 1064.3 1165.1C1067.3 1164.7 1070.3 1164.2 1073.2 1163.8C1076.2 1163.3 1079.2 1162.8 1082.2 1162.4C1085.1 1161.9 1088.1 1161.4 1091.1 1160.9C1094.0 1160.4 1097.0 1159.8 1100.0 1159.3C1102.9 1158.8 1105.9 1158.2 1108.8 1157.7C1111.8 1157.1 1114.7 1156.5 1117.7 1156.0C1120.6 1155.4 1123.5 1154.8 1126.5 1154.2C1129.4 1153.7 1132.4 1153.1 1135.3 1152.5C1138.2 1151.9 1141.2 1151.3 1144.1 1150.7C1147.1 1150.1 1150.0 1149.5 1152.9 1148.9C1155.9 1148.3 1158.8 1147.6 1161.7 1147.0C1164.7 1146.4 1167.6 1145.8 1170.6 1145.2C1173.5 1144.6 1176.4 1144.0 1179.4 1143.4C1182.3 1142.8 1185.3 1142.2 1188.2 1141.6C1191.1 1141.1 1194.1 1140.5 1197.0 1139.9C1200.0 1139.3 1202.9 1138.8 1205.9 1138.2C1208.9 1137.7 1211.8 1137.1 1214.8 1136.6C1217.7 1136.1 1220.7 1135.6 1223.7 1135.1C1226.6 1134.6 1229.6 1134.1 1232.6 1133.6C1235.6 1133.2 1238.5 1132.7 1241.5 1132.3C1244.5 1131.9 1247.5 1131.5 1250.5 1131.1C1253.5 1130.7 1256.5 1130.3 1259.5 1130.0C1262.5 1129.7 1265.5 1129.4 1268.5 1129.1C1271.5 1128.8 1274.5 1128.6 1277.5 1128.3C1280.6 1128.1 1283.6 1127.9 1286.6 1127.8C1289.6 1127.6 1292.7 1127.5 1295.7 1127.4C1298.7 1127.3 1301.8 1127.3 1304.8 1127.3C1307.8 1127.3 1310.9 1127.3 1313.9 1127.4C1316.9 1127.5 1319.9 1127.6 1322.9 1127.8C1325.9 1128.0 1328.9 1128.2 1331.9 1128.5C1334.9 1128.8 1337.9 1129.1 1340.9 1129.5C1343.9 1129.9 1346.8 1130.4 1349.8 1130.9C1352.7 1131.4 1355.7 1131.9 1358.6 1132.6C1361.5 1133.2 1364.4 1133.9 1367.4 1134.6C1370.3 1135.3 1373.2 1136.0 1376.0 1136.8C1378.9 1137.6 1381.8 1138.5 1384.7 1139.3C1387.6 1140.2 1390.4 1141.1 1393.3 1142.1C1396.1 1143.0 1399.0 1144.0 1401.8 1144.9C1404.7 1145.9 1407.5 1146.9 1410.3 1148.0C1413.2 1149.0 1416.0 1150.1 1418.8 1151.1C1421.6 1152.2 1424.4 1153.3 1427.2 1154.4C1430.1 1155.5 1432.9 1156.6 1435.7 1157.7C1438.5 1158.8 1441.2 1160.0 1444.0 1161.1C1446.8 1162.2 1449.6 1163.4 1452.4 1164.6C1455.2 1165.7 1458.0 1166.9 1460.7 1168.1C1463.5 1169.3 1466.3 1170.4 1469.1 1171.6C1471.8 1172.8 1474.6 1174.0 1477.4 1175.2C1480.1 1176.4 1482.9 1177.6 1485.6 1178.9C1488.4 1180.1 1491.2 1181.3 1493.9 1182.5C1496.7 1183.7 1499.4 1184.9 1502.2 1186.1C1505.0 1187.3 1507.7 1188.6 1510.5 1189.8C1513.2 1191.0 1516.0 1192.2 1518.7 1193.4C1521.5 1194.6 1525.6 1196.4 1527.0 1197.0L1527.0 1197.0C1528.5 1197.1 1533.1 1197.3 1536.2 1197.5C1539.3 1197.6 1542.3 1197.8 1545.4 1198.0C1548.5 1198.1 1551.5 1198.3 1554.6 1198.4C1557.7 1198.6 1560.7 1198.8 1563.8 1198.9C1566.9 1199.1 1569.9 1199.3 1573.0 1199.4C1576.1 1199.6 1579.1 1199.8 1582.2 1199.9C1585.3 1200.1 1588.3 1200.3 1591.4 1200.4C1594.5 1200.6 1597.5 1200.8 1600.6 1200.9C1603.7 1201.1 1606.7 1201.3 1609.8 1201.4C1612.9 1201.6 1615.9 1201.8 1619.0 1202.0C1622.1 1202.1 1625.1 1202.3 1628.2 1202.5C1631.3 1202.6 1634.3 1202.8 1637.4 1203.0C1640.5 1203.2 1643.5 1203.3 1646.6 1203.5C1649.7 1203.7 1652.7 1203.8 1655.8 1204.0C1658.9 1204.2 1661.9 1204.4 1665.0 1204.5C1668.1 1204.7 1671.2 1204.9 1674.2 1205.1C1677.3 1205.2 1680.4 1205.4 1683.4 1205.6C1686.5 1205.7 1689.6 1205.9 1692.6 1206.1C1695.7 1206.3 1698.8 1206.4 1701.8 1206.6C1704.9 1206.8 1708.0 1206.9 1711.1 1207.1C1714.1 1207.3 1717.2 1207.4 1720.3 1207.6C1723.3 1207.8 1726.4 1208.0 1729.5 1208.1C1732.5 1208.3 1735.6 1208.5 1738.7 1208.6C1741.7 1208.8 1744.8 1209.0 1747.9 1209.1C1751.0 1209.3 1754.0 1209.4 1757.1 1209.6C1760.2 1209.8 1763.2 1209.9 1766.3 1210.1C1769.4 1210.3 1772.4 1210.4 1775.5 1210.6C1778.6 1210.7 1781.6 1210.9 1784.7 1211.1C1787.8 1211.2 1790.9 1211.4 1793.9 1211.5C1797.0 1211.7 1800.1 1211.8 1803.1 1212.0C1806.2 1212.1 1809.3 1212.3 1812.3 1212.4C1815.4 1212.6 1818.5 1212.7 1821.6 1212.9C1824.6 1213.0 1827.7 1213.2 1830.8 1213.3C1833.8 1213.5 1836.9 1213.6 1840.0 1213.8C1843.0 1213.9 1846.1 1214.0 1849.2 1214.2C1852.2 1214.3 1855.3 1214.5 1858.4 1214.6C1861.5 1214.7 1864.5 1214.9 1867.6 1215.0C1870.7 1215.1 1873.7 1215.3 1876.8 1215.4C1879.9 1215.5 1882.9 1215.6 1886.0 1215.8C1889.1 1215.9 1892.2 1216.0 1895.2 1216.1C1898.3 1216.3 1901.4 1216.4 1904.4 1216.5C1907.5 1216.6 1910.6 1216.7 1913.6 1216.8C1916.7 1216.9 1919.8 1217.0 1922.8 1217.1C1925.9 1217.2 1929.0 1217.3 1932.0 1217.3C1935.1 1217.4 1938.2 1217.5 1941.2 1217.5C1944.3 1217.6 1947.4 1217.6 1950.4 1217.7C1953.5 1217.7 1956.6 1217.7 1959.6 1217.7C1962.7 1217.7 1965.8 1217.7 1968.8 1217.7C1971.9 1217.7 1975.0 1217.7 1978.0 1217.6C1981.1 1217.6 1984.2 1217.5 1987.2 1217.5C1990.3 1217.4 1993.4 1217.3 1996.4 1217.2C1999.5 1217.1 2002.5 1217.0 2005.6 1216.9C2008.7 1216.7 2011.7 1216.6 2014.8 1216.4C2017.9 1216.2 2020.9 1216.0 2024.0 1215.8C2027.0 1215.6 2030.1 1215.4 2033.2 1215.1C2036.2 1214.8 2039.3 1214.6 2042.3 1214.3C2045.4 1214.0 2050.0 1213.5 2051.5 1213.3"/>
</g>
<g fill="none" stroke-width="4.4">
<path stroke="#0a0a0a" d="M1374 76.5 H1512"/>
<path stroke="#ff0000" d="M1374 141.5 H1512"/>
<path stroke="#0000ff" d="M1374 206 H1512"/>
<path stroke="#008a00" d="M1374 270.5 H1512"/>
</g>
<g>
<text transform="translate(1525 93.5) scale(1.118 1)" font-size="54" text-anchor="start">Commercial ZSM5</text>
<text transform="translate(1525 159.1) scale(1.118 1)" font-size="54" text-anchor="start">DZ-1.0M-75</text>
<text transform="translate(1525 223.5) scale(1.118 1)" font-size="54" text-anchor="start">SZ-MW</text>
<text transform="translate(1525 288.1) scale(1.118 1)" font-size="54" text-anchor="start">SZ-CO</text>
<text transform="translate(244 1234.8) scale(1.11 1)" font-size="55.5" text-anchor="end">0.0</text>
<text transform="translate(244 971.5) scale(1.11 1)" font-size="55.5" text-anchor="end">0.5</text>
<text transform="translate(244 708.3) scale(1.11 1)" font-size="55.5" text-anchor="end">1.0</text>
<text transform="translate(244 445.0) scale(1.11 1)" font-size="55.5" text-anchor="end">1.5</text>
<text transform="translate(244 181.7) scale(1.11 1)" font-size="55.5" text-anchor="end">2.0</text>
<text transform="translate(452.0 1353) scale(1.1 1)" font-size="53.2" text-anchor="middle">100</text>
<text transform="translate(772.0 1353) scale(1.1 1)" font-size="53.2" text-anchor="middle">200</text>
<text transform="translate(1092.0 1353) scale(1.1 1)" font-size="53.2" text-anchor="middle">300</text>
<text transform="translate(1412.0 1353) scale(1.1 1)" font-size="53.2" text-anchor="middle">400</text>
<text transform="translate(1732.0 1353) scale(1.1 1)" font-size="53.2" text-anchor="middle">500</text>
<text transform="translate(2052.0 1353) scale(1.1 1)" font-size="53.2" text-anchor="middle">600</text>
<text transform="translate(1172.3 1452.6) scale(1.103 1)" font-size="67" text-anchor="middle">Temperature (°C)</text>
<text transform="translate(77.3 625.3) rotate(-90) scale(1 1.185)" font-size="64.3" text-anchor="middle">TCD Signal (a.u./g)</text>
</g>
</svg>
</body>
</html>
